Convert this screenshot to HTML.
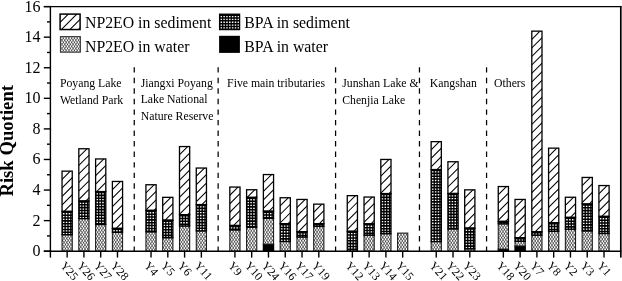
<!DOCTYPE html><html><head><meta charset="utf-8"><style>html,body{margin:0;padding:0;background:#fff;}svg{display:block;will-change:transform;}text{font-family:"Liberation Serif", serif;fill:#000;}</style></head><body>
<svg width="622" height="281" viewBox="0 0 622 281">
<defs><clipPath id="c1"><rect x="62.05" y="234.70" width="10.20" height="16.50"/></clipPath><clipPath id="c2"><rect x="62.05" y="211.40" width="10.20" height="23.30"/></clipPath><clipPath id="c3"><rect x="62.05" y="171.15" width="10.20" height="40.25"/></clipPath><clipPath id="c4"><rect x="78.82" y="218.60" width="10.20" height="32.60"/></clipPath><clipPath id="c5"><rect x="78.82" y="201.00" width="10.20" height="17.60"/></clipPath><clipPath id="c6"><rect x="78.82" y="148.75" width="10.20" height="52.25"/></clipPath><clipPath id="c7"><rect x="95.60" y="224.50" width="10.20" height="26.70"/></clipPath><clipPath id="c8"><rect x="95.60" y="191.60" width="10.20" height="32.90"/></clipPath><clipPath id="c9"><rect x="95.60" y="158.95" width="10.20" height="32.65"/></clipPath><clipPath id="c10"><rect x="112.38" y="232.30" width="10.20" height="18.90"/></clipPath><clipPath id="c11"><rect x="112.38" y="228.40" width="10.20" height="3.90"/></clipPath><clipPath id="c12"><rect x="112.38" y="181.45" width="10.20" height="46.95"/></clipPath><clipPath id="c13"><rect x="145.93" y="231.80" width="10.20" height="19.40"/></clipPath><clipPath id="c14"><rect x="145.93" y="210.40" width="10.20" height="21.40"/></clipPath><clipPath id="c15"><rect x="145.93" y="184.75" width="10.20" height="25.65"/></clipPath><clipPath id="c16"><rect x="162.71" y="237.70" width="10.20" height="13.50"/></clipPath><clipPath id="c17"><rect x="162.71" y="220.20" width="10.20" height="17.50"/></clipPath><clipPath id="c18"><rect x="162.71" y="197.35" width="10.20" height="22.85"/></clipPath><clipPath id="c19"><rect x="179.49" y="226.00" width="10.20" height="25.20"/></clipPath><clipPath id="c20"><rect x="179.49" y="214.70" width="10.20" height="11.30"/></clipPath><clipPath id="c21"><rect x="179.49" y="146.55" width="10.20" height="68.15"/></clipPath><clipPath id="c22"><rect x="196.26" y="230.90" width="10.20" height="20.30"/></clipPath><clipPath id="c23"><rect x="196.26" y="204.60" width="10.20" height="26.30"/></clipPath><clipPath id="c24"><rect x="196.26" y="168.05" width="10.20" height="36.55"/></clipPath><clipPath id="c25"><rect x="229.82" y="229.90" width="10.20" height="21.30"/></clipPath><clipPath id="c26"><rect x="229.82" y="225.50" width="10.20" height="4.40"/></clipPath><clipPath id="c27"><rect x="229.82" y="187.05" width="10.20" height="38.45"/></clipPath><clipPath id="c28"><rect x="246.59" y="227.20" width="10.20" height="24.00"/></clipPath><clipPath id="c29"><rect x="246.59" y="197.40" width="10.20" height="29.80"/></clipPath><clipPath id="c30"><rect x="246.59" y="189.75" width="10.20" height="7.65"/></clipPath><clipPath id="c31"><rect x="263.37" y="218.30" width="10.20" height="25.90"/></clipPath><clipPath id="c32"><rect x="263.37" y="211.20" width="10.20" height="7.10"/></clipPath><clipPath id="c33"><rect x="263.37" y="174.55" width="10.20" height="36.65"/></clipPath><clipPath id="c34"><rect x="280.15" y="241.50" width="10.20" height="9.70"/></clipPath><clipPath id="c35"><rect x="280.15" y="223.70" width="10.20" height="17.80"/></clipPath><clipPath id="c36"><rect x="280.15" y="197.75" width="10.20" height="25.95"/></clipPath><clipPath id="c37"><rect x="296.93" y="237.00" width="10.20" height="14.20"/></clipPath><clipPath id="c38"><rect x="296.93" y="231.70" width="10.20" height="5.30"/></clipPath><clipPath id="c39"><rect x="296.93" y="199.45" width="10.20" height="32.25"/></clipPath><clipPath id="c40"><rect x="313.70" y="226.40" width="10.20" height="24.80"/></clipPath><clipPath id="c41"><rect x="313.70" y="223.70" width="10.20" height="2.70"/></clipPath><clipPath id="c42"><rect x="313.70" y="204.15" width="10.20" height="19.55"/></clipPath><clipPath id="c43"><rect x="347.26" y="231.30" width="10.20" height="19.90"/></clipPath><clipPath id="c44"><rect x="347.26" y="195.65" width="10.20" height="35.65"/></clipPath><clipPath id="c45"><rect x="364.03" y="235.20" width="10.20" height="16.00"/></clipPath><clipPath id="c46"><rect x="364.03" y="223.90" width="10.20" height="11.30"/></clipPath><clipPath id="c47"><rect x="364.03" y="197.05" width="10.20" height="26.85"/></clipPath><clipPath id="c48"><rect x="380.81" y="233.70" width="10.20" height="17.50"/></clipPath><clipPath id="c49"><rect x="380.81" y="193.60" width="10.20" height="40.10"/></clipPath><clipPath id="c50"><rect x="380.81" y="159.45" width="10.20" height="34.15"/></clipPath><clipPath id="c51"><rect x="397.59" y="233.10" width="10.20" height="18.10"/></clipPath><clipPath id="c52"><rect x="431.14" y="241.60" width="10.20" height="9.60"/></clipPath><clipPath id="c53"><rect x="431.14" y="169.60" width="10.20" height="72.00"/></clipPath><clipPath id="c54"><rect x="431.14" y="141.65" width="10.20" height="27.95"/></clipPath><clipPath id="c55"><rect x="447.92" y="228.90" width="10.20" height="22.30"/></clipPath><clipPath id="c56"><rect x="447.92" y="193.50" width="10.20" height="35.40"/></clipPath><clipPath id="c57"><rect x="447.92" y="161.75" width="10.20" height="31.75"/></clipPath><clipPath id="c58"><rect x="464.69" y="248.80" width="10.20" height="2.40"/></clipPath><clipPath id="c59"><rect x="464.69" y="228.10" width="10.20" height="20.70"/></clipPath><clipPath id="c60"><rect x="464.69" y="189.85" width="10.20" height="38.25"/></clipPath><clipPath id="c61"><rect x="498.25" y="223.80" width="10.20" height="25.30"/></clipPath><clipPath id="c62"><rect x="498.25" y="221.40" width="10.20" height="2.40"/></clipPath><clipPath id="c63"><rect x="498.25" y="186.55" width="10.20" height="34.85"/></clipPath><clipPath id="c64"><rect x="515.03" y="241.30" width="10.20" height="4.70"/></clipPath><clipPath id="c65"><rect x="515.03" y="237.80" width="10.20" height="3.50"/></clipPath><clipPath id="c66"><rect x="515.03" y="199.45" width="10.20" height="38.35"/></clipPath><clipPath id="c67"><rect x="531.80" y="235.20" width="10.20" height="16.00"/></clipPath><clipPath id="c68"><rect x="531.80" y="231.80" width="10.20" height="3.40"/></clipPath><clipPath id="c69"><rect x="531.80" y="31.15" width="10.20" height="200.65"/></clipPath><clipPath id="c70"><rect x="548.58" y="231.30" width="10.20" height="19.90"/></clipPath><clipPath id="c71"><rect x="548.58" y="222.80" width="10.20" height="8.50"/></clipPath><clipPath id="c72"><rect x="548.58" y="148.15" width="10.20" height="74.65"/></clipPath><clipPath id="c73"><rect x="565.36" y="229.20" width="10.20" height="22.00"/></clipPath><clipPath id="c74"><rect x="565.36" y="217.40" width="10.20" height="11.80"/></clipPath><clipPath id="c75"><rect x="565.36" y="197.25" width="10.20" height="20.15"/></clipPath><clipPath id="c76"><rect x="582.13" y="230.90" width="10.20" height="20.30"/></clipPath><clipPath id="c77"><rect x="582.13" y="204.00" width="10.20" height="26.90"/></clipPath><clipPath id="c78"><rect x="582.13" y="177.45" width="10.20" height="26.55"/></clipPath><clipPath id="c79"><rect x="598.91" y="233.50" width="10.20" height="17.70"/></clipPath><clipPath id="c80"><rect x="598.91" y="216.40" width="10.20" height="17.10"/></clipPath><clipPath id="c81"><rect x="598.91" y="185.55" width="10.20" height="30.85"/></clipPath><clipPath id="c82"><rect x="60.10" y="14.10" width="20.00" height="15.45"/></clipPath><clipPath id="c83"><rect x="60.40" y="36.60" width="20.00" height="15.60"/></clipPath><clipPath id="c84"><rect x="219.60" y="14.20" width="20.00" height="15.40"/></clipPath></defs>
<g clip-path="url(#c1)"><rect x="62.05" y="234.7" width="10.2" height="16.5" fill="#fff"/><path d="M38.75 233.7L51.24 252.2M42.26 233.7L29.76 252.2M41.52 233.7L54.01 252.2M45.03 233.7L32.53 252.2M44.29 233.7L56.78 252.2M47.8 233.7L35.3 252.2M47.06 233.7L59.55 252.2M50.57 233.7L38.07 252.2M49.83 233.7L62.32 252.2M53.34 233.7L40.84 252.2M52.6 233.7L65.09 252.2M56.11 233.7L43.61 252.2M55.37 233.7L67.86 252.2M58.88 233.7L46.38 252.2M58.14 233.7L70.63 252.2M61.65 233.7L49.15 252.2M60.91 233.7L73.4 252.2M64.42 233.7L51.92 252.2M63.68 233.7L76.17 252.2M67.19 233.7L54.69 252.2M66.45 233.7L78.94 252.2M69.96 233.7L57.46 252.2M69.22 233.7L81.71 252.2M72.73 233.7L60.23 252.2M71.99 233.7L84.48 252.2M75.5 233.7L63 252.2M74.76 233.7L87.25 252.2M78.27 233.7L65.77 252.2M77.53 233.7L90.02 252.2M81.04 233.7L68.54 252.2M80.3 233.7L92.79 252.2M83.81 233.7L71.31 252.2M83.07 233.7L95.56 252.2M86.58 233.7L74.08 252.2M85.84 233.7L98.33 252.2M89.35 233.7L76.85 252.2M88.61 233.7L101.1 252.2M92.12 233.7L79.62 252.2M91.38 233.7L103.87 252.2M94.89 233.7L82.39 252.2" stroke="#000" stroke-width="0.55" fill="none"/></g>
<rect x="62.05" y="234.7" width="10.2" height="16.5" fill="none" stroke="#1a1a1a" stroke-width="1.05"/>
<rect x="62.05" y="211.4" width="10.2" height="23.3" fill="#000"/>
<path clip-path="url(#c2)" d="M62.95 213.1h1.5v1.3h-1.5zM65.8 213.1h1.5v1.3h-1.5zM68.65 213.1h1.5v1.3h-1.5zM71.5 213.1h1.5v1.3h-1.5zM62.95 215.95h1.5v1.3h-1.5zM65.8 215.95h1.5v1.3h-1.5zM68.65 215.95h1.5v1.3h-1.5zM71.5 215.95h1.5v1.3h-1.5zM62.95 218.8h1.5v1.3h-1.5zM65.8 218.8h1.5v1.3h-1.5zM68.65 218.8h1.5v1.3h-1.5zM71.5 218.8h1.5v1.3h-1.5zM62.95 221.65h1.5v1.3h-1.5zM65.8 221.65h1.5v1.3h-1.5zM68.65 221.65h1.5v1.3h-1.5zM71.5 221.65h1.5v1.3h-1.5zM62.95 224.5h1.5v1.3h-1.5zM65.8 224.5h1.5v1.3h-1.5zM68.65 224.5h1.5v1.3h-1.5zM71.5 224.5h1.5v1.3h-1.5zM62.95 227.35h1.5v1.3h-1.5zM65.8 227.35h1.5v1.3h-1.5zM68.65 227.35h1.5v1.3h-1.5zM71.5 227.35h1.5v1.3h-1.5zM62.95 230.2h1.5v1.3h-1.5zM65.8 230.2h1.5v1.3h-1.5zM68.65 230.2h1.5v1.3h-1.5zM71.5 230.2h1.5v1.3h-1.5zM62.95 233.05h1.5v1.3h-1.5zM65.8 233.05h1.5v1.3h-1.5zM68.65 233.05h1.5v1.3h-1.5zM71.5 233.05h1.5v1.3h-1.5z" fill="#fff"/>
<rect x="62.05" y="211.4" width="10.2" height="23.3" fill="none" stroke="#000" stroke-width="1.3"/>
<path clip-path="url(#c3)" d="M61.05 163.34L73.25 151.14M61.05 171.85L73.25 159.65M61.05 180.36L73.25 168.16M61.05 188.87L73.25 176.67M61.05 197.38L73.25 185.18M61.05 205.89L73.25 193.69M61.05 214.4L73.25 202.2M61.05 222.91L73.25 210.71M61.05 231.42L73.25 219.22" stroke="#000" stroke-width="1.05" fill="none"/>
<rect x="62.05" y="171.15" width="10.2" height="40.25" fill="none" stroke="#000" stroke-width="1.3"/>
<g clip-path="url(#c4)"><rect x="78.82" y="218.6" width="10.2" height="32.6" fill="#fff"/><path d="M44.44 217.6L67.82 252.2M47.96 217.6L24.58 252.2M47.21 217.6L70.59 252.2M50.73 217.6L27.35 252.2M49.98 217.6L73.36 252.2M53.5 217.6L30.12 252.2M52.75 217.6L76.13 252.2M56.27 217.6L32.89 252.2M55.52 217.6L78.9 252.2M59.04 217.6L35.66 252.2M58.29 217.6L81.67 252.2M61.81 217.6L38.43 252.2M61.06 217.6L84.44 252.2M64.58 217.6L41.2 252.2M63.83 217.6L87.21 252.2M67.35 217.6L43.97 252.2M66.6 217.6L89.98 252.2M70.12 217.6L46.74 252.2M69.37 217.6L92.75 252.2M72.89 217.6L49.51 252.2M72.14 217.6L95.52 252.2M75.66 217.6L52.28 252.2M74.91 217.6L98.29 252.2M78.43 217.6L55.05 252.2M77.68 217.6L101.06 252.2M81.2 217.6L57.82 252.2M80.45 217.6L103.83 252.2M83.97 217.6L60.59 252.2M83.22 217.6L106.6 252.2M86.74 217.6L63.36 252.2M85.99 217.6L109.37 252.2M89.51 217.6L66.13 252.2M88.76 217.6L112.14 252.2M92.28 217.6L68.9 252.2M91.53 217.6L114.91 252.2M95.05 217.6L71.67 252.2M94.3 217.6L117.68 252.2M97.82 217.6L74.44 252.2M97.07 217.6L120.45 252.2M100.59 217.6L77.21 252.2M99.84 217.6L123.22 252.2M103.36 217.6L79.98 252.2M102.61 217.6L125.99 252.2M106.13 217.6L82.75 252.2M105.38 217.6L128.76 252.2M108.9 217.6L85.52 252.2M108.15 217.6L131.53 252.2M111.67 217.6L88.29 252.2M110.92 217.6L134.3 252.2M114.44 217.6L91.06 252.2M113.69 217.6L137.07 252.2M117.21 217.6L93.83 252.2M116.46 217.6L139.84 252.2M119.98 217.6L96.6 252.2M119.23 217.6L142.61 252.2M122.75 217.6L99.37 252.2" stroke="#000" stroke-width="0.55" fill="none"/></g>
<rect x="78.82" y="218.6" width="10.2" height="32.6" fill="none" stroke="#1a1a1a" stroke-width="1.05"/>
<rect x="78.82" y="201" width="10.2" height="17.6" fill="#000"/>
<path clip-path="url(#c5)" d="M79.72 202.7h1.5v1.3h-1.5zM82.57 202.7h1.5v1.3h-1.5zM85.42 202.7h1.5v1.3h-1.5zM88.27 202.7h1.5v1.3h-1.5zM79.72 205.55h1.5v1.3h-1.5zM82.57 205.55h1.5v1.3h-1.5zM85.42 205.55h1.5v1.3h-1.5zM88.27 205.55h1.5v1.3h-1.5zM79.72 208.4h1.5v1.3h-1.5zM82.57 208.4h1.5v1.3h-1.5zM85.42 208.4h1.5v1.3h-1.5zM88.27 208.4h1.5v1.3h-1.5zM79.72 211.25h1.5v1.3h-1.5zM82.57 211.25h1.5v1.3h-1.5zM85.42 211.25h1.5v1.3h-1.5zM88.27 211.25h1.5v1.3h-1.5zM79.72 214.1h1.5v1.3h-1.5zM82.57 214.1h1.5v1.3h-1.5zM85.42 214.1h1.5v1.3h-1.5zM88.27 214.1h1.5v1.3h-1.5zM79.72 216.95h1.5v1.3h-1.5zM82.57 216.95h1.5v1.3h-1.5zM85.42 216.95h1.5v1.3h-1.5zM88.27 216.95h1.5v1.3h-1.5z" fill="#fff"/>
<rect x="78.82" y="201" width="10.2" height="17.6" fill="none" stroke="#000" stroke-width="1.3"/>
<path clip-path="url(#c6)" d="M77.82 140.94L90.02 128.74M77.82 149.45L90.02 137.25M77.82 157.96L90.02 145.76M77.82 166.47L90.02 154.27M77.82 174.98L90.02 162.78M77.82 183.49L90.02 171.29M77.82 192L90.02 179.8M77.82 200.51L90.02 188.31M77.82 209.02L90.02 196.82M77.82 217.53L90.02 205.33M77.82 226.04L90.02 213.84" stroke="#000" stroke-width="1.05" fill="none"/>
<rect x="78.82" y="148.75" width="10.2" height="52.25" fill="none" stroke="#000" stroke-width="1.3"/>
<g clip-path="url(#c7)"><rect x="95.6" y="224.5" width="10.2" height="26.7" fill="#fff"/><path d="M66.76 223.5L86.15 252.2M70.27 223.5L50.88 252.2M69.53 223.5L88.92 252.2M73.04 223.5L53.65 252.2M72.3 223.5L91.69 252.2M75.81 223.5L56.42 252.2M75.07 223.5L94.46 252.2M78.58 223.5L59.19 252.2M77.84 223.5L97.23 252.2M81.35 223.5L61.96 252.2M80.61 223.5L100 252.2M84.12 223.5L64.73 252.2M83.38 223.5L102.77 252.2M86.89 223.5L67.5 252.2M86.15 223.5L105.54 252.2M89.66 223.5L70.27 252.2M88.92 223.5L108.31 252.2M92.43 223.5L73.04 252.2M91.69 223.5L111.08 252.2M95.2 223.5L75.81 252.2M94.46 223.5L113.85 252.2M97.97 223.5L78.58 252.2M97.23 223.5L116.62 252.2M100.74 223.5L81.35 252.2M100 223.5L119.39 252.2M103.51 223.5L84.12 252.2M102.77 223.5L122.16 252.2M106.28 223.5L86.89 252.2M105.54 223.5L124.93 252.2M109.05 223.5L89.66 252.2M108.31 223.5L127.7 252.2M111.82 223.5L92.43 252.2M111.08 223.5L130.47 252.2M114.59 223.5L95.2 252.2M113.85 223.5L133.24 252.2M117.36 223.5L97.97 252.2M116.62 223.5L136.01 252.2M120.13 223.5L100.74 252.2M119.39 223.5L138.78 252.2M122.9 223.5L103.51 252.2M122.16 223.5L141.55 252.2M125.67 223.5L106.28 252.2M124.93 223.5L144.32 252.2M128.44 223.5L109.05 252.2M127.7 223.5L147.09 252.2M131.21 223.5L111.82 252.2M130.47 223.5L149.86 252.2M133.98 223.5L114.59 252.2" stroke="#000" stroke-width="0.55" fill="none"/></g>
<rect x="95.6" y="224.5" width="10.2" height="26.7" fill="none" stroke="#1a1a1a" stroke-width="1.05"/>
<rect x="95.6" y="191.6" width="10.2" height="32.9" fill="#000"/>
<path clip-path="url(#c8)" d="M96.5 193.3h1.5v1.3h-1.5zM99.35 193.3h1.5v1.3h-1.5zM102.2 193.3h1.5v1.3h-1.5zM105.05 193.3h1.5v1.3h-1.5zM96.5 196.15h1.5v1.3h-1.5zM99.35 196.15h1.5v1.3h-1.5zM102.2 196.15h1.5v1.3h-1.5zM105.05 196.15h1.5v1.3h-1.5zM96.5 199h1.5v1.3h-1.5zM99.35 199h1.5v1.3h-1.5zM102.2 199h1.5v1.3h-1.5zM105.05 199h1.5v1.3h-1.5zM96.5 201.85h1.5v1.3h-1.5zM99.35 201.85h1.5v1.3h-1.5zM102.2 201.85h1.5v1.3h-1.5zM105.05 201.85h1.5v1.3h-1.5zM96.5 204.7h1.5v1.3h-1.5zM99.35 204.7h1.5v1.3h-1.5zM102.2 204.7h1.5v1.3h-1.5zM105.05 204.7h1.5v1.3h-1.5zM96.5 207.55h1.5v1.3h-1.5zM99.35 207.55h1.5v1.3h-1.5zM102.2 207.55h1.5v1.3h-1.5zM105.05 207.55h1.5v1.3h-1.5zM96.5 210.4h1.5v1.3h-1.5zM99.35 210.4h1.5v1.3h-1.5zM102.2 210.4h1.5v1.3h-1.5zM105.05 210.4h1.5v1.3h-1.5zM96.5 213.25h1.5v1.3h-1.5zM99.35 213.25h1.5v1.3h-1.5zM102.2 213.25h1.5v1.3h-1.5zM105.05 213.25h1.5v1.3h-1.5zM96.5 216.1h1.5v1.3h-1.5zM99.35 216.1h1.5v1.3h-1.5zM102.2 216.1h1.5v1.3h-1.5zM105.05 216.1h1.5v1.3h-1.5zM96.5 218.95h1.5v1.3h-1.5zM99.35 218.95h1.5v1.3h-1.5zM102.2 218.95h1.5v1.3h-1.5zM105.05 218.95h1.5v1.3h-1.5zM96.5 221.8h1.5v1.3h-1.5zM99.35 221.8h1.5v1.3h-1.5zM102.2 221.8h1.5v1.3h-1.5zM105.05 221.8h1.5v1.3h-1.5z" fill="#fff"/>
<rect x="95.6" y="191.6" width="10.2" height="32.9" fill="none" stroke="#000" stroke-width="1.3"/>
<path clip-path="url(#c9)" d="M94.6 151.14L106.8 138.94M94.6 159.65L106.8 147.45M94.6 168.16L106.8 155.96M94.6 176.67L106.8 164.47M94.6 185.18L106.8 172.98M94.6 193.69L106.8 181.49M94.6 202.2L106.8 190M94.6 210.71L106.8 198.51M94.6 219.22L106.8 207.02" stroke="#000" stroke-width="1.05" fill="none"/>
<rect x="95.6" y="158.95" width="10.2" height="32.65" fill="none" stroke="#000" stroke-width="1.3"/>
<g clip-path="url(#c10)"><rect x="112.38" y="232.3" width="10.2" height="18.9" fill="#fff"/><path d="M89.08 231.3L103.2 252.2M92.59 231.3L78.47 252.2M91.85 231.3L105.97 252.2M95.36 231.3L81.24 252.2M94.62 231.3L108.74 252.2M98.13 231.3L84.01 252.2M97.39 231.3L111.51 252.2M100.9 231.3L86.78 252.2M100.16 231.3L114.28 252.2M103.67 231.3L89.55 252.2M102.93 231.3L117.05 252.2M106.44 231.3L92.32 252.2M105.7 231.3L119.82 252.2M109.21 231.3L95.09 252.2M108.47 231.3L122.59 252.2M111.98 231.3L97.86 252.2M111.24 231.3L125.36 252.2M114.75 231.3L100.63 252.2M114.01 231.3L128.13 252.2M117.52 231.3L103.4 252.2M116.78 231.3L130.9 252.2M120.29 231.3L106.17 252.2M119.55 231.3L133.67 252.2M123.06 231.3L108.94 252.2M122.32 231.3L136.44 252.2M125.83 231.3L111.71 252.2M125.09 231.3L139.21 252.2M128.6 231.3L114.48 252.2M127.86 231.3L141.98 252.2M131.37 231.3L117.25 252.2M130.63 231.3L144.75 252.2M134.14 231.3L120.02 252.2M133.4 231.3L147.52 252.2M136.91 231.3L122.79 252.2M136.17 231.3L150.29 252.2M139.68 231.3L125.56 252.2M138.94 231.3L153.06 252.2M142.45 231.3L128.33 252.2M141.71 231.3L155.83 252.2M145.22 231.3L131.1 252.2M144.48 231.3L158.6 252.2M147.99 231.3L133.87 252.2" stroke="#000" stroke-width="0.55" fill="none"/></g>
<rect x="112.38" y="232.3" width="10.2" height="18.9" fill="none" stroke="#1a1a1a" stroke-width="1.05"/>
<rect x="112.38" y="228.4" width="10.2" height="3.9" fill="#000"/>
<path clip-path="url(#c11)" d="M113.28 230.1h1.5v1.3h-1.5zM116.13 230.1h1.5v1.3h-1.5zM118.98 230.1h1.5v1.3h-1.5zM121.83 230.1h1.5v1.3h-1.5z" fill="#fff"/>
<rect x="112.38" y="228.4" width="10.2" height="3.9" fill="none" stroke="#000" stroke-width="1.3"/>
<path clip-path="url(#c12)" d="M111.38 173.64L123.58 161.44M111.38 182.15L123.58 169.95M111.38 190.66L123.58 178.46M111.38 199.17L123.58 186.97M111.38 207.68L123.58 195.48M111.38 216.19L123.58 203.99M111.38 224.7L123.58 212.5M111.38 233.21L123.58 221.01M111.38 241.72L123.58 229.52M111.38 250.23L123.58 238.03" stroke="#000" stroke-width="1.05" fill="none"/>
<rect x="112.38" y="181.45" width="10.2" height="46.95" fill="none" stroke="#000" stroke-width="1.3"/>
<g clip-path="url(#c13)"><rect x="145.93" y="231.8" width="10.2" height="19.4" fill="#fff"/><path d="M122.63 230.8L137.09 252.2M126.14 230.8L111.69 252.2M125.4 230.8L139.86 252.2M128.91 230.8L114.46 252.2M128.17 230.8L142.63 252.2M131.68 230.8L117.23 252.2M130.94 230.8L145.4 252.2M134.45 230.8L120 252.2M133.71 230.8L148.17 252.2M137.22 230.8L122.77 252.2M136.48 230.8L150.94 252.2M139.99 230.8L125.54 252.2M139.25 230.8L153.71 252.2M142.76 230.8L128.31 252.2M142.02 230.8L156.48 252.2M145.53 230.8L131.08 252.2M144.79 230.8L159.25 252.2M148.3 230.8L133.85 252.2M147.56 230.8L162.02 252.2M151.07 230.8L136.62 252.2M150.33 230.8L164.79 252.2M153.84 230.8L139.39 252.2M153.1 230.8L167.56 252.2M156.61 230.8L142.16 252.2M155.87 230.8L170.33 252.2M159.38 230.8L144.93 252.2M158.64 230.8L173.1 252.2M162.15 230.8L147.7 252.2M161.41 230.8L175.87 252.2M164.92 230.8L150.47 252.2M164.18 230.8L178.64 252.2M167.69 230.8L153.24 252.2M166.95 230.8L181.41 252.2M170.46 230.8L156.01 252.2M169.72 230.8L184.18 252.2M173.23 230.8L158.78 252.2M172.49 230.8L186.95 252.2M176 230.8L161.55 252.2M175.26 230.8L189.72 252.2M178.77 230.8L164.32 252.2M178.03 230.8L192.49 252.2M181.54 230.8L167.09 252.2" stroke="#000" stroke-width="0.55" fill="none"/></g>
<rect x="145.93" y="231.8" width="10.2" height="19.4" fill="none" stroke="#1a1a1a" stroke-width="1.05"/>
<rect x="145.93" y="210.4" width="10.2" height="21.4" fill="#000"/>
<path clip-path="url(#c14)" d="M146.83 212.1h1.5v1.3h-1.5zM149.68 212.1h1.5v1.3h-1.5zM152.53 212.1h1.5v1.3h-1.5zM155.38 212.1h1.5v1.3h-1.5zM146.83 214.95h1.5v1.3h-1.5zM149.68 214.95h1.5v1.3h-1.5zM152.53 214.95h1.5v1.3h-1.5zM155.38 214.95h1.5v1.3h-1.5zM146.83 217.8h1.5v1.3h-1.5zM149.68 217.8h1.5v1.3h-1.5zM152.53 217.8h1.5v1.3h-1.5zM155.38 217.8h1.5v1.3h-1.5zM146.83 220.65h1.5v1.3h-1.5zM149.68 220.65h1.5v1.3h-1.5zM152.53 220.65h1.5v1.3h-1.5zM155.38 220.65h1.5v1.3h-1.5zM146.83 223.5h1.5v1.3h-1.5zM149.68 223.5h1.5v1.3h-1.5zM152.53 223.5h1.5v1.3h-1.5zM155.38 223.5h1.5v1.3h-1.5zM146.83 226.35h1.5v1.3h-1.5zM149.68 226.35h1.5v1.3h-1.5zM152.53 226.35h1.5v1.3h-1.5zM155.38 226.35h1.5v1.3h-1.5zM146.83 229.2h1.5v1.3h-1.5zM149.68 229.2h1.5v1.3h-1.5zM152.53 229.2h1.5v1.3h-1.5zM155.38 229.2h1.5v1.3h-1.5z" fill="#fff"/>
<rect x="145.93" y="210.4" width="10.2" height="21.4" fill="none" stroke="#000" stroke-width="1.3"/>
<path clip-path="url(#c15)" d="M144.93 176.94L157.13 164.74M144.93 185.45L157.13 173.25M144.93 193.96L157.13 181.76M144.93 202.47L157.13 190.27M144.93 210.98L157.13 198.78M144.93 219.49L157.13 207.29M144.93 228L157.13 215.8M144.93 236.51L157.13 224.31" stroke="#000" stroke-width="1.05" fill="none"/>
<rect x="145.93" y="184.75" width="10.2" height="25.65" fill="none" stroke="#000" stroke-width="1.3"/>
<g clip-path="url(#c16)"><rect x="162.71" y="237.7" width="10.2" height="13.5" fill="#fff"/><path d="M142.18 236.7L152.65 252.2M145.69 236.7L135.22 252.2M144.95 236.7L155.42 252.2M148.46 236.7L137.99 252.2M147.72 236.7L158.19 252.2M151.23 236.7L140.76 252.2M150.49 236.7L160.96 252.2M154 236.7L143.53 252.2M153.26 236.7L163.73 252.2M156.77 236.7L146.3 252.2M156.03 236.7L166.5 252.2M159.54 236.7L149.07 252.2M158.8 236.7L169.27 252.2M162.31 236.7L151.84 252.2M161.57 236.7L172.04 252.2M165.08 236.7L154.61 252.2M164.34 236.7L174.81 252.2M167.85 236.7L157.38 252.2M167.11 236.7L177.58 252.2M170.62 236.7L160.15 252.2M169.88 236.7L180.35 252.2M173.39 236.7L162.92 252.2M172.65 236.7L183.12 252.2M176.16 236.7L165.69 252.2M175.42 236.7L185.89 252.2M178.93 236.7L168.46 252.2M178.19 236.7L188.66 252.2M181.7 236.7L171.23 252.2M180.96 236.7L191.43 252.2M184.47 236.7L174 252.2M183.73 236.7L194.2 252.2M187.24 236.7L176.77 252.2M186.5 236.7L196.97 252.2M190.01 236.7L179.54 252.2M189.27 236.7L199.74 252.2M192.78 236.7L182.31 252.2" stroke="#000" stroke-width="0.55" fill="none"/></g>
<rect x="162.71" y="237.7" width="10.2" height="13.5" fill="none" stroke="#1a1a1a" stroke-width="1.05"/>
<rect x="162.71" y="220.2" width="10.2" height="17.5" fill="#000"/>
<path clip-path="url(#c17)" d="M163.61 221.9h1.5v1.3h-1.5zM166.46 221.9h1.5v1.3h-1.5zM169.31 221.9h1.5v1.3h-1.5zM172.16 221.9h1.5v1.3h-1.5zM163.61 224.75h1.5v1.3h-1.5zM166.46 224.75h1.5v1.3h-1.5zM169.31 224.75h1.5v1.3h-1.5zM172.16 224.75h1.5v1.3h-1.5zM163.61 227.6h1.5v1.3h-1.5zM166.46 227.6h1.5v1.3h-1.5zM169.31 227.6h1.5v1.3h-1.5zM172.16 227.6h1.5v1.3h-1.5zM163.61 230.45h1.5v1.3h-1.5zM166.46 230.45h1.5v1.3h-1.5zM169.31 230.45h1.5v1.3h-1.5zM172.16 230.45h1.5v1.3h-1.5zM163.61 233.3h1.5v1.3h-1.5zM166.46 233.3h1.5v1.3h-1.5zM169.31 233.3h1.5v1.3h-1.5zM172.16 233.3h1.5v1.3h-1.5zM163.61 236.15h1.5v1.3h-1.5zM166.46 236.15h1.5v1.3h-1.5zM169.31 236.15h1.5v1.3h-1.5zM172.16 236.15h1.5v1.3h-1.5z" fill="#fff"/>
<rect x="162.71" y="220.2" width="10.2" height="17.5" fill="none" stroke="#000" stroke-width="1.3"/>
<path clip-path="url(#c18)" d="M161.71 189.54L173.91 177.34M161.71 198.05L173.91 185.85M161.71 206.56L173.91 194.36M161.71 215.07L173.91 202.87M161.71 223.58L173.91 211.38M161.71 232.09L173.91 219.89M161.71 240.6L173.91 228.4" stroke="#000" stroke-width="1.05" fill="none"/>
<rect x="162.71" y="197.35" width="10.2" height="22.85" fill="none" stroke="#000" stroke-width="1.3"/>
<g clip-path="url(#c19)"><rect x="179.49" y="226" width="10.2" height="25.2" fill="#fff"/><path d="M150.64 225L169.02 252.2M154.16 225L135.78 252.2M153.41 225L171.79 252.2M156.93 225L138.55 252.2M156.18 225L174.56 252.2M159.7 225L141.32 252.2M158.95 225L177.33 252.2M162.47 225L144.09 252.2M161.72 225L180.1 252.2M165.24 225L146.86 252.2M164.49 225L182.87 252.2M168.01 225L149.63 252.2M167.26 225L185.64 252.2M170.78 225L152.4 252.2M170.03 225L188.41 252.2M173.55 225L155.17 252.2M172.8 225L191.18 252.2M176.32 225L157.94 252.2M175.57 225L193.95 252.2M179.09 225L160.71 252.2M178.34 225L196.72 252.2M181.86 225L163.48 252.2M181.11 225L199.49 252.2M184.63 225L166.25 252.2M183.88 225L202.26 252.2M187.4 225L169.02 252.2M186.65 225L205.03 252.2M190.17 225L171.79 252.2M189.42 225L207.8 252.2M192.94 225L174.56 252.2M192.19 225L210.57 252.2M195.71 225L177.33 252.2M194.96 225L213.34 252.2M198.48 225L180.1 252.2M197.73 225L216.11 252.2M201.25 225L182.87 252.2M200.5 225L218.88 252.2M204.02 225L185.64 252.2M203.27 225L221.65 252.2M206.79 225L188.41 252.2M206.04 225L224.42 252.2M209.56 225L191.18 252.2M208.81 225L227.19 252.2M212.33 225L193.95 252.2M211.58 225L229.96 252.2M215.1 225L196.72 252.2M214.35 225L232.73 252.2M217.87 225L199.49 252.2" stroke="#000" stroke-width="0.55" fill="none"/></g>
<rect x="179.49" y="226" width="10.2" height="25.2" fill="none" stroke="#1a1a1a" stroke-width="1.05"/>
<rect x="179.49" y="214.7" width="10.2" height="11.3" fill="#000"/>
<path clip-path="url(#c20)" d="M180.39 216.4h1.5v1.3h-1.5zM183.24 216.4h1.5v1.3h-1.5zM186.09 216.4h1.5v1.3h-1.5zM188.94 216.4h1.5v1.3h-1.5zM180.39 219.25h1.5v1.3h-1.5zM183.24 219.25h1.5v1.3h-1.5zM186.09 219.25h1.5v1.3h-1.5zM188.94 219.25h1.5v1.3h-1.5zM180.39 222.1h1.5v1.3h-1.5zM183.24 222.1h1.5v1.3h-1.5zM186.09 222.1h1.5v1.3h-1.5zM188.94 222.1h1.5v1.3h-1.5zM180.39 224.95h1.5v1.3h-1.5zM183.24 224.95h1.5v1.3h-1.5zM186.09 224.95h1.5v1.3h-1.5zM188.94 224.95h1.5v1.3h-1.5z" fill="#fff"/>
<rect x="179.49" y="214.7" width="10.2" height="11.3" fill="none" stroke="#000" stroke-width="1.3"/>
<path clip-path="url(#c21)" d="M178.49 138.74L190.69 126.54M178.49 147.25L190.69 135.05M178.49 155.76L190.69 143.56M178.49 164.27L190.69 152.07M178.49 172.78L190.69 160.58M178.49 181.29L190.69 169.09M178.49 189.8L190.69 177.6M178.49 198.31L190.69 186.11M178.49 206.82L190.69 194.62M178.49 215.33L190.69 203.13M178.49 223.84L190.69 211.64M178.49 232.35L190.69 220.15M178.49 240.86L190.69 228.66" stroke="#000" stroke-width="1.05" fill="none"/>
<rect x="179.49" y="146.55" width="10.2" height="68.15" fill="none" stroke="#000" stroke-width="1.3"/>
<g clip-path="url(#c22)"><rect x="196.26" y="230.9" width="10.2" height="20.3" fill="#fff"/><path d="M170.19 229.9L185.26 252.2M173.7 229.9L158.64 252.2M172.96 229.9L188.03 252.2M176.47 229.9L161.41 252.2M175.73 229.9L190.8 252.2M179.24 229.9L164.18 252.2M178.5 229.9L193.57 252.2M182.01 229.9L166.95 252.2M181.27 229.9L196.34 252.2M184.78 229.9L169.72 252.2M184.04 229.9L199.11 252.2M187.55 229.9L172.49 252.2M186.81 229.9L201.88 252.2M190.32 229.9L175.26 252.2M189.58 229.9L204.65 252.2M193.09 229.9L178.03 252.2M192.35 229.9L207.42 252.2M195.86 229.9L180.8 252.2M195.12 229.9L210.19 252.2M198.63 229.9L183.57 252.2M197.89 229.9L212.96 252.2M201.4 229.9L186.34 252.2M200.66 229.9L215.73 252.2M204.17 229.9L189.11 252.2M203.43 229.9L218.5 252.2M206.94 229.9L191.88 252.2M206.2 229.9L221.27 252.2M209.71 229.9L194.65 252.2M208.97 229.9L224.04 252.2M212.48 229.9L197.42 252.2M211.74 229.9L226.81 252.2M215.25 229.9L200.19 252.2M214.51 229.9L229.58 252.2M218.02 229.9L202.96 252.2M217.28 229.9L232.35 252.2M220.79 229.9L205.73 252.2M220.05 229.9L235.12 252.2M223.56 229.9L208.5 252.2M222.82 229.9L237.89 252.2M226.33 229.9L211.27 252.2M225.59 229.9L240.66 252.2M229.1 229.9L214.04 252.2M228.36 229.9L243.43 252.2M231.87 229.9L216.81 252.2" stroke="#000" stroke-width="0.55" fill="none"/></g>
<rect x="196.26" y="230.9" width="10.2" height="20.3" fill="none" stroke="#1a1a1a" stroke-width="1.05"/>
<rect x="196.26" y="204.6" width="10.2" height="26.3" fill="#000"/>
<path clip-path="url(#c23)" d="M197.16 206.3h1.5v1.3h-1.5zM200.01 206.3h1.5v1.3h-1.5zM202.86 206.3h1.5v1.3h-1.5zM205.71 206.3h1.5v1.3h-1.5zM197.16 209.15h1.5v1.3h-1.5zM200.01 209.15h1.5v1.3h-1.5zM202.86 209.15h1.5v1.3h-1.5zM205.71 209.15h1.5v1.3h-1.5zM197.16 212h1.5v1.3h-1.5zM200.01 212h1.5v1.3h-1.5zM202.86 212h1.5v1.3h-1.5zM205.71 212h1.5v1.3h-1.5zM197.16 214.85h1.5v1.3h-1.5zM200.01 214.85h1.5v1.3h-1.5zM202.86 214.85h1.5v1.3h-1.5zM205.71 214.85h1.5v1.3h-1.5zM197.16 217.7h1.5v1.3h-1.5zM200.01 217.7h1.5v1.3h-1.5zM202.86 217.7h1.5v1.3h-1.5zM205.71 217.7h1.5v1.3h-1.5zM197.16 220.55h1.5v1.3h-1.5zM200.01 220.55h1.5v1.3h-1.5zM202.86 220.55h1.5v1.3h-1.5zM205.71 220.55h1.5v1.3h-1.5zM197.16 223.4h1.5v1.3h-1.5zM200.01 223.4h1.5v1.3h-1.5zM202.86 223.4h1.5v1.3h-1.5zM205.71 223.4h1.5v1.3h-1.5zM197.16 226.25h1.5v1.3h-1.5zM200.01 226.25h1.5v1.3h-1.5zM202.86 226.25h1.5v1.3h-1.5zM205.71 226.25h1.5v1.3h-1.5zM197.16 229.1h1.5v1.3h-1.5zM200.01 229.1h1.5v1.3h-1.5zM202.86 229.1h1.5v1.3h-1.5zM205.71 229.1h1.5v1.3h-1.5z" fill="#fff"/>
<rect x="196.26" y="204.6" width="10.2" height="26.3" fill="none" stroke="#000" stroke-width="1.3"/>
<path clip-path="url(#c24)" d="M195.26 160.24L207.46 148.04M195.26 168.75L207.46 156.55M195.26 177.26L207.46 165.06M195.26 185.77L207.46 173.57M195.26 194.28L207.46 182.08M195.26 202.79L207.46 190.59M195.26 211.3L207.46 199.1M195.26 219.81L207.46 207.61M195.26 228.32L207.46 216.12" stroke="#000" stroke-width="1.05" fill="none"/>
<rect x="196.26" y="168.05" width="10.2" height="36.55" fill="none" stroke="#000" stroke-width="1.3"/>
<g clip-path="url(#c25)"><rect x="229.82" y="229.9" width="10.2" height="21.3" fill="#fff"/><path d="M203.75 228.9L219.49 252.2M207.26 228.9L191.52 252.2M206.52 228.9L222.26 252.2M210.03 228.9L194.29 252.2M209.29 228.9L225.03 252.2M212.8 228.9L197.06 252.2M212.06 228.9L227.8 252.2M215.57 228.9L199.83 252.2M214.83 228.9L230.57 252.2M218.34 228.9L202.6 252.2M217.6 228.9L233.34 252.2M221.11 228.9L205.37 252.2M220.37 228.9L236.11 252.2M223.88 228.9L208.14 252.2M223.14 228.9L238.88 252.2M226.65 228.9L210.91 252.2M225.91 228.9L241.65 252.2M229.42 228.9L213.68 252.2M228.68 228.9L244.42 252.2M232.19 228.9L216.45 252.2M231.45 228.9L247.19 252.2M234.96 228.9L219.22 252.2M234.22 228.9L249.96 252.2M237.73 228.9L221.99 252.2M236.99 228.9L252.73 252.2M240.5 228.9L224.76 252.2M239.76 228.9L255.5 252.2M243.27 228.9L227.53 252.2M242.53 228.9L258.27 252.2M246.04 228.9L230.3 252.2M245.3 228.9L261.04 252.2M248.81 228.9L233.07 252.2M248.07 228.9L263.81 252.2M251.58 228.9L235.84 252.2M250.84 228.9L266.58 252.2M254.35 228.9L238.61 252.2M253.61 228.9L269.35 252.2M257.12 228.9L241.38 252.2M256.38 228.9L272.12 252.2M259.89 228.9L244.15 252.2M259.15 228.9L274.89 252.2M262.66 228.9L246.92 252.2M261.92 228.9L277.66 252.2M265.43 228.9L249.69 252.2" stroke="#000" stroke-width="0.55" fill="none"/></g>
<rect x="229.82" y="229.9" width="10.2" height="21.3" fill="none" stroke="#1a1a1a" stroke-width="1.05"/>
<rect x="229.82" y="225.5" width="10.2" height="4.4" fill="#000"/>
<path clip-path="url(#c26)" d="M230.72 227.2h1.5v1.3h-1.5zM233.57 227.2h1.5v1.3h-1.5zM236.42 227.2h1.5v1.3h-1.5zM239.27 227.2h1.5v1.3h-1.5z" fill="#fff"/>
<rect x="229.82" y="225.5" width="10.2" height="4.4" fill="none" stroke="#000" stroke-width="1.3"/>
<path clip-path="url(#c27)" d="M228.82 179.24L241.02 167.04M228.82 187.75L241.02 175.55M228.82 196.26L241.02 184.06M228.82 204.77L241.02 192.57M228.82 213.28L241.02 201.08M228.82 221.79L241.02 209.59M228.82 230.3L241.02 218.1M228.82 238.81L241.02 226.61M228.82 247.32L241.02 235.12" stroke="#000" stroke-width="1.05" fill="none"/>
<rect x="229.82" y="187.05" width="10.2" height="38.45" fill="none" stroke="#000" stroke-width="1.3"/>
<g clip-path="url(#c28)"><rect x="246.59" y="227.2" width="10.2" height="24" fill="#fff"/><path d="M217.75 226.2L235.32 252.2M221.27 226.2L203.7 252.2M220.52 226.2L238.09 252.2M224.04 226.2L206.47 252.2M223.29 226.2L240.86 252.2M226.81 226.2L209.24 252.2M226.06 226.2L243.63 252.2M229.58 226.2L212.01 252.2M228.83 226.2L246.4 252.2M232.35 226.2L214.78 252.2M231.6 226.2L249.17 252.2M235.12 226.2L217.55 252.2M234.37 226.2L251.94 252.2M237.89 226.2L220.32 252.2M237.14 226.2L254.71 252.2M240.66 226.2L223.09 252.2M239.91 226.2L257.48 252.2M243.43 226.2L225.86 252.2M242.68 226.2L260.25 252.2M246.2 226.2L228.63 252.2M245.45 226.2L263.02 252.2M248.97 226.2L231.4 252.2M248.22 226.2L265.79 252.2M251.74 226.2L234.17 252.2M250.99 226.2L268.56 252.2M254.51 226.2L236.94 252.2M253.76 226.2L271.33 252.2M257.28 226.2L239.71 252.2M256.53 226.2L274.1 252.2M260.05 226.2L242.48 252.2M259.3 226.2L276.87 252.2M262.82 226.2L245.25 252.2M262.07 226.2L279.64 252.2M265.59 226.2L248.02 252.2M264.84 226.2L282.41 252.2M268.36 226.2L250.79 252.2M267.61 226.2L285.18 252.2M271.13 226.2L253.56 252.2M270.38 226.2L287.95 252.2M273.9 226.2L256.33 252.2M273.15 226.2L290.72 252.2M276.67 226.2L259.1 252.2M275.92 226.2L293.49 252.2M279.44 226.2L261.87 252.2M278.69 226.2L296.26 252.2M282.21 226.2L264.64 252.2M281.46 226.2L299.03 252.2M284.98 226.2L267.41 252.2" stroke="#000" stroke-width="0.55" fill="none"/></g>
<rect x="246.59" y="227.2" width="10.2" height="24" fill="none" stroke="#1a1a1a" stroke-width="1.05"/>
<rect x="246.59" y="197.4" width="10.2" height="29.8" fill="#000"/>
<path clip-path="url(#c29)" d="M247.49 199.1h1.5v1.3h-1.5zM250.34 199.1h1.5v1.3h-1.5zM253.19 199.1h1.5v1.3h-1.5zM256.04 199.1h1.5v1.3h-1.5zM247.49 201.95h1.5v1.3h-1.5zM250.34 201.95h1.5v1.3h-1.5zM253.19 201.95h1.5v1.3h-1.5zM256.04 201.95h1.5v1.3h-1.5zM247.49 204.8h1.5v1.3h-1.5zM250.34 204.8h1.5v1.3h-1.5zM253.19 204.8h1.5v1.3h-1.5zM256.04 204.8h1.5v1.3h-1.5zM247.49 207.65h1.5v1.3h-1.5zM250.34 207.65h1.5v1.3h-1.5zM253.19 207.65h1.5v1.3h-1.5zM256.04 207.65h1.5v1.3h-1.5zM247.49 210.5h1.5v1.3h-1.5zM250.34 210.5h1.5v1.3h-1.5zM253.19 210.5h1.5v1.3h-1.5zM256.04 210.5h1.5v1.3h-1.5zM247.49 213.35h1.5v1.3h-1.5zM250.34 213.35h1.5v1.3h-1.5zM253.19 213.35h1.5v1.3h-1.5zM256.04 213.35h1.5v1.3h-1.5zM247.49 216.2h1.5v1.3h-1.5zM250.34 216.2h1.5v1.3h-1.5zM253.19 216.2h1.5v1.3h-1.5zM256.04 216.2h1.5v1.3h-1.5zM247.49 219.05h1.5v1.3h-1.5zM250.34 219.05h1.5v1.3h-1.5zM253.19 219.05h1.5v1.3h-1.5zM256.04 219.05h1.5v1.3h-1.5zM247.49 221.9h1.5v1.3h-1.5zM250.34 221.9h1.5v1.3h-1.5zM253.19 221.9h1.5v1.3h-1.5zM256.04 221.9h1.5v1.3h-1.5zM247.49 224.75h1.5v1.3h-1.5zM250.34 224.75h1.5v1.3h-1.5zM253.19 224.75h1.5v1.3h-1.5zM256.04 224.75h1.5v1.3h-1.5z" fill="#fff"/>
<rect x="246.59" y="197.4" width="10.2" height="29.8" fill="none" stroke="#000" stroke-width="1.3"/>
<path clip-path="url(#c30)" d="M245.59 181.94L257.79 169.74M245.59 190.45L257.79 178.25M245.59 198.96L257.79 186.76M245.59 207.47L257.79 195.27M245.59 215.98L257.79 203.78M245.59 224.49L257.79 212.29" stroke="#000" stroke-width="1.05" fill="none"/>
<rect x="246.59" y="189.75" width="10.2" height="7.65" fill="none" stroke="#000" stroke-width="1.3"/>
<rect x="263.37" y="244.2" width="10.2" height="7" fill="#000" stroke="#000" stroke-width="1.3"/>
<g clip-path="url(#c31)"><rect x="263.37" y="218.3" width="10.2" height="25.9" fill="#fff"/><path d="M234.53 217.3L253.38 245.2M238.04 217.3L219.19 245.2M237.3 217.3L256.15 245.2M240.81 217.3L221.96 245.2M240.07 217.3L258.92 245.2M243.58 217.3L224.73 245.2M242.84 217.3L261.69 245.2M246.35 217.3L227.5 245.2M245.61 217.3L264.46 245.2M249.12 217.3L230.27 245.2M248.38 217.3L267.23 245.2M251.89 217.3L233.04 245.2M251.15 217.3L270 245.2M254.66 217.3L235.81 245.2M253.92 217.3L272.77 245.2M257.43 217.3L238.58 245.2M256.69 217.3L275.54 245.2M260.2 217.3L241.35 245.2M259.46 217.3L278.31 245.2M262.97 217.3L244.12 245.2M262.23 217.3L281.08 245.2M265.74 217.3L246.89 245.2M265 217.3L283.85 245.2M268.51 217.3L249.66 245.2M267.77 217.3L286.62 245.2M271.28 217.3L252.43 245.2M270.54 217.3L289.39 245.2M274.05 217.3L255.2 245.2M273.31 217.3L292.16 245.2M276.82 217.3L257.97 245.2M276.08 217.3L294.93 245.2M279.59 217.3L260.74 245.2M278.85 217.3L297.7 245.2M282.36 217.3L263.51 245.2M281.62 217.3L300.47 245.2M285.13 217.3L266.28 245.2M284.39 217.3L303.24 245.2M287.9 217.3L269.05 245.2M287.16 217.3L306.01 245.2M290.67 217.3L271.82 245.2M289.93 217.3L308.78 245.2M293.44 217.3L274.59 245.2M292.7 217.3L311.55 245.2M296.21 217.3L277.36 245.2M295.47 217.3L314.32 245.2M298.98 217.3L280.13 245.2M298.24 217.3L317.09 245.2M301.75 217.3L282.9 245.2" stroke="#000" stroke-width="0.55" fill="none"/></g>
<rect x="263.37" y="218.3" width="10.2" height="25.9" fill="none" stroke="#1a1a1a" stroke-width="1.05"/>
<rect x="263.37" y="211.2" width="10.2" height="7.1" fill="#000"/>
<path clip-path="url(#c32)" d="M264.27 212.9h1.5v1.3h-1.5zM267.12 212.9h1.5v1.3h-1.5zM269.97 212.9h1.5v1.3h-1.5zM272.82 212.9h1.5v1.3h-1.5zM264.27 215.75h1.5v1.3h-1.5zM267.12 215.75h1.5v1.3h-1.5zM269.97 215.75h1.5v1.3h-1.5zM272.82 215.75h1.5v1.3h-1.5z" fill="#fff"/>
<rect x="263.37" y="211.2" width="10.2" height="7.1" fill="none" stroke="#000" stroke-width="1.3"/>
<path clip-path="url(#c33)" d="M262.37 166.74L274.57 154.54M262.37 175.25L274.57 163.05M262.37 183.76L274.57 171.56M262.37 192.27L274.57 180.07M262.37 200.78L274.57 188.58M262.37 209.29L274.57 197.09M262.37 217.8L274.57 205.6M262.37 226.31L274.57 214.11M262.37 234.82L274.57 222.62" stroke="#000" stroke-width="1.05" fill="none"/>
<rect x="263.37" y="174.55" width="10.2" height="36.65" fill="none" stroke="#000" stroke-width="1.3"/>
<g clip-path="url(#c34)"><rect x="280.15" y="241.5" width="10.2" height="9.7" fill="#fff"/><path d="M262.39 240.5L270.29 252.2M265.9 240.5L257.99 252.2M265.16 240.5L273.06 252.2M268.67 240.5L260.76 252.2M267.93 240.5L275.83 252.2M271.44 240.5L263.53 252.2M270.7 240.5L278.6 252.2M274.21 240.5L266.3 252.2M273.47 240.5L281.37 252.2M276.98 240.5L269.07 252.2M276.24 240.5L284.14 252.2M279.75 240.5L271.84 252.2M279.01 240.5L286.91 252.2M282.52 240.5L274.61 252.2M281.78 240.5L289.68 252.2M285.29 240.5L277.38 252.2M284.55 240.5L292.45 252.2M288.06 240.5L280.15 252.2M287.32 240.5L295.22 252.2M290.83 240.5L282.92 252.2M290.09 240.5L297.99 252.2M293.6 240.5L285.69 252.2M292.86 240.5L300.76 252.2M296.37 240.5L288.46 252.2M295.63 240.5L303.53 252.2M299.14 240.5L291.23 252.2M298.4 240.5L306.3 252.2M301.91 240.5L294 252.2M301.17 240.5L309.07 252.2M304.68 240.5L296.77 252.2M303.94 240.5L311.84 252.2M307.45 240.5L299.54 252.2" stroke="#000" stroke-width="0.55" fill="none"/></g>
<rect x="280.15" y="241.5" width="10.2" height="9.7" fill="none" stroke="#1a1a1a" stroke-width="1.05"/>
<rect x="280.15" y="223.7" width="10.2" height="17.8" fill="#000"/>
<path clip-path="url(#c35)" d="M281.05 225.4h1.5v1.3h-1.5zM283.9 225.4h1.5v1.3h-1.5zM286.75 225.4h1.5v1.3h-1.5zM289.6 225.4h1.5v1.3h-1.5zM281.05 228.25h1.5v1.3h-1.5zM283.9 228.25h1.5v1.3h-1.5zM286.75 228.25h1.5v1.3h-1.5zM289.6 228.25h1.5v1.3h-1.5zM281.05 231.1h1.5v1.3h-1.5zM283.9 231.1h1.5v1.3h-1.5zM286.75 231.1h1.5v1.3h-1.5zM289.6 231.1h1.5v1.3h-1.5zM281.05 233.95h1.5v1.3h-1.5zM283.9 233.95h1.5v1.3h-1.5zM286.75 233.95h1.5v1.3h-1.5zM289.6 233.95h1.5v1.3h-1.5zM281.05 236.8h1.5v1.3h-1.5zM283.9 236.8h1.5v1.3h-1.5zM286.75 236.8h1.5v1.3h-1.5zM289.6 236.8h1.5v1.3h-1.5zM281.05 239.65h1.5v1.3h-1.5zM283.9 239.65h1.5v1.3h-1.5zM286.75 239.65h1.5v1.3h-1.5zM289.6 239.65h1.5v1.3h-1.5z" fill="#fff"/>
<rect x="280.15" y="223.7" width="10.2" height="17.8" fill="none" stroke="#000" stroke-width="1.3"/>
<path clip-path="url(#c36)" d="M279.15 189.94L291.35 177.74M279.15 198.45L291.35 186.25M279.15 206.96L291.35 194.76M279.15 215.47L291.35 203.27M279.15 223.98L291.35 211.78M279.15 232.49L291.35 220.29M279.15 241L291.35 228.8M279.15 249.51L291.35 237.31" stroke="#000" stroke-width="1.05" fill="none"/>
<rect x="280.15" y="197.75" width="10.2" height="25.95" fill="none" stroke="#000" stroke-width="1.3"/>
<g clip-path="url(#c37)"><rect x="296.93" y="237" width="10.2" height="14.2" fill="#fff"/><path d="M276.39 236L287.34 252.2M279.91 236L268.96 252.2M279.16 236L290.11 252.2M282.68 236L271.73 252.2M281.93 236L292.88 252.2M285.45 236L274.5 252.2M284.7 236L295.65 252.2M288.22 236L277.27 252.2M287.47 236L298.42 252.2M290.99 236L280.04 252.2M290.24 236L301.19 252.2M293.76 236L282.81 252.2M293.01 236L303.96 252.2M296.53 236L285.58 252.2M295.78 236L306.73 252.2M299.3 236L288.35 252.2M298.55 236L309.5 252.2M302.07 236L291.12 252.2M301.32 236L312.27 252.2M304.84 236L293.89 252.2M304.09 236L315.04 252.2M307.61 236L296.66 252.2M306.86 236L317.81 252.2M310.38 236L299.43 252.2M309.63 236L320.58 252.2M313.15 236L302.2 252.2M312.4 236L323.35 252.2M315.92 236L304.97 252.2M315.17 236L326.12 252.2M318.69 236L307.74 252.2M317.94 236L328.89 252.2M321.46 236L310.51 252.2M320.71 236L331.66 252.2M324.23 236L313.28 252.2M323.48 236L334.43 252.2M327 236L316.05 252.2" stroke="#000" stroke-width="0.55" fill="none"/></g>
<rect x="296.93" y="237" width="10.2" height="14.2" fill="none" stroke="#1a1a1a" stroke-width="1.05"/>
<rect x="296.93" y="231.7" width="10.2" height="5.3" fill="#000"/>
<path clip-path="url(#c38)" d="M297.83 233.4h1.5v1.3h-1.5zM300.68 233.4h1.5v1.3h-1.5zM303.53 233.4h1.5v1.3h-1.5zM306.38 233.4h1.5v1.3h-1.5zM297.83 236.25h1.5v1.3h-1.5zM300.68 236.25h1.5v1.3h-1.5zM303.53 236.25h1.5v1.3h-1.5zM306.38 236.25h1.5v1.3h-1.5z" fill="#fff"/>
<rect x="296.93" y="231.7" width="10.2" height="5.3" fill="none" stroke="#000" stroke-width="1.3"/>
<path clip-path="url(#c39)" d="M295.93 191.64L308.12 179.44M295.93 200.15L308.12 187.95M295.93 208.66L308.12 196.46M295.93 217.17L308.12 204.97M295.93 225.68L308.12 213.48M295.93 234.19L308.12 221.99M295.93 242.7L308.12 230.5M295.93 251.21L308.12 239.01M295.93 259.72L308.12 247.52" stroke="#000" stroke-width="1.05" fill="none"/>
<rect x="296.93" y="199.45" width="10.2" height="32.25" fill="none" stroke="#000" stroke-width="1.3"/>
<g clip-path="url(#c40)"><rect x="313.7" y="226.4" width="10.2" height="24.8" fill="#fff"/><path d="M284.86 225.4L302.97 252.2M288.37 225.4L270.27 252.2M287.63 225.4L305.74 252.2M291.14 225.4L273.04 252.2M290.4 225.4L308.51 252.2M293.91 225.4L275.81 252.2M293.17 225.4L311.28 252.2M296.68 225.4L278.58 252.2M295.94 225.4L314.05 252.2M299.45 225.4L281.35 252.2M298.71 225.4L316.82 252.2M302.22 225.4L284.12 252.2M301.48 225.4L319.59 252.2M304.99 225.4L286.89 252.2M304.25 225.4L322.36 252.2M307.76 225.4L289.66 252.2M307.02 225.4L325.13 252.2M310.53 225.4L292.43 252.2M309.79 225.4L327.9 252.2M313.3 225.4L295.2 252.2M312.56 225.4L330.67 252.2M316.07 225.4L297.97 252.2M315.33 225.4L333.44 252.2M318.84 225.4L300.74 252.2M318.1 225.4L336.21 252.2M321.61 225.4L303.51 252.2M320.87 225.4L338.98 252.2M324.38 225.4L306.28 252.2M323.64 225.4L341.75 252.2M327.15 225.4L309.05 252.2M326.41 225.4L344.52 252.2M329.92 225.4L311.82 252.2M329.18 225.4L347.29 252.2M332.69 225.4L314.59 252.2M331.95 225.4L350.06 252.2M335.46 225.4L317.36 252.2M334.72 225.4L352.83 252.2M338.23 225.4L320.13 252.2M337.49 225.4L355.6 252.2M341 225.4L322.9 252.2M340.26 225.4L358.37 252.2M343.77 225.4L325.67 252.2M343.03 225.4L361.14 252.2M346.54 225.4L328.44 252.2M345.8 225.4L363.91 252.2M349.31 225.4L331.21 252.2M348.57 225.4L366.68 252.2M352.08 225.4L333.98 252.2" stroke="#000" stroke-width="0.55" fill="none"/></g>
<rect x="313.7" y="226.4" width="10.2" height="24.8" fill="none" stroke="#1a1a1a" stroke-width="1.05"/>
<rect x="313.7" y="223.7" width="10.2" height="2.7" fill="#000"/>
<path clip-path="url(#c41)" d="M314.6 225.4h1.5v1.3h-1.5zM317.45 225.4h1.5v1.3h-1.5zM320.3 225.4h1.5v1.3h-1.5zM323.15 225.4h1.5v1.3h-1.5z" fill="#fff"/>
<rect x="313.7" y="223.7" width="10.2" height="2.7" fill="none" stroke="#000" stroke-width="1.3"/>
<path clip-path="url(#c42)" d="M312.7 196.34L324.9 184.14M312.7 204.85L324.9 192.65M312.7 213.36L324.9 201.16M312.7 221.87L324.9 209.67M312.7 230.38L324.9 218.18M312.7 238.89L324.9 226.69M312.7 247.4L324.9 235.2" stroke="#000" stroke-width="1.05" fill="none"/>
<rect x="313.7" y="204.15" width="10.2" height="19.55" fill="none" stroke="#000" stroke-width="1.3"/>
<rect x="347.26" y="231.3" width="10.2" height="19.9" fill="#000"/>
<path clip-path="url(#c43)" d="M348.16 233h1.5v1.3h-1.5zM351.01 233h1.5v1.3h-1.5zM353.86 233h1.5v1.3h-1.5zM356.71 233h1.5v1.3h-1.5zM348.16 235.85h1.5v1.3h-1.5zM351.01 235.85h1.5v1.3h-1.5zM353.86 235.85h1.5v1.3h-1.5zM356.71 235.85h1.5v1.3h-1.5zM348.16 238.7h1.5v1.3h-1.5zM351.01 238.7h1.5v1.3h-1.5zM353.86 238.7h1.5v1.3h-1.5zM356.71 238.7h1.5v1.3h-1.5zM348.16 241.55h1.5v1.3h-1.5zM351.01 241.55h1.5v1.3h-1.5zM353.86 241.55h1.5v1.3h-1.5zM356.71 241.55h1.5v1.3h-1.5zM348.16 244.4h1.5v1.3h-1.5zM351.01 244.4h1.5v1.3h-1.5zM353.86 244.4h1.5v1.3h-1.5zM356.71 244.4h1.5v1.3h-1.5zM348.16 247.25h1.5v1.3h-1.5zM351.01 247.25h1.5v1.3h-1.5zM353.86 247.25h1.5v1.3h-1.5zM356.71 247.25h1.5v1.3h-1.5zM348.16 250.1h1.5v1.3h-1.5zM351.01 250.1h1.5v1.3h-1.5zM353.86 250.1h1.5v1.3h-1.5zM356.71 250.1h1.5v1.3h-1.5z" fill="#fff"/>
<rect x="347.26" y="231.3" width="10.2" height="19.9" fill="none" stroke="#000" stroke-width="1.3"/>
<path clip-path="url(#c44)" d="M346.26 187.84L358.46 175.64M346.26 196.35L358.46 184.15M346.26 204.86L358.46 192.66M346.26 213.37L358.46 201.17M346.26 221.88L358.46 209.68M346.26 230.39L358.46 218.19M346.26 238.9L358.46 226.7M346.26 247.41L358.46 235.21M346.26 255.92L358.46 243.72" stroke="#000" stroke-width="1.05" fill="none"/>
<rect x="347.26" y="195.65" width="10.2" height="35.65" fill="none" stroke="#000" stroke-width="1.3"/>
<g clip-path="url(#c45)"><rect x="364.03" y="235.2" width="10.2" height="16" fill="#fff"/><path d="M340.73 234.2L352.89 252.2M344.24 234.2L332.08 252.2M343.5 234.2L355.66 252.2M347.01 234.2L334.85 252.2M346.27 234.2L358.43 252.2M349.78 234.2L337.62 252.2M349.04 234.2L361.2 252.2M352.55 234.2L340.39 252.2M351.81 234.2L363.97 252.2M355.32 234.2L343.16 252.2M354.58 234.2L366.74 252.2M358.09 234.2L345.93 252.2M357.35 234.2L369.51 252.2M360.86 234.2L348.7 252.2M360.12 234.2L372.28 252.2M363.63 234.2L351.47 252.2M362.89 234.2L375.05 252.2M366.4 234.2L354.24 252.2M365.66 234.2L377.82 252.2M369.17 234.2L357.01 252.2M368.43 234.2L380.59 252.2M371.94 234.2L359.78 252.2M371.2 234.2L383.36 252.2M374.71 234.2L362.55 252.2M373.97 234.2L386.13 252.2M377.48 234.2L365.32 252.2M376.74 234.2L388.9 252.2M380.25 234.2L368.09 252.2M379.51 234.2L391.67 252.2M383.02 234.2L370.86 252.2M382.28 234.2L394.44 252.2M385.79 234.2L373.63 252.2M385.05 234.2L397.21 252.2M388.56 234.2L376.4 252.2M387.82 234.2L399.98 252.2M391.33 234.2L379.17 252.2M390.59 234.2L402.75 252.2M394.1 234.2L381.94 252.2M393.36 234.2L405.52 252.2M396.87 234.2L384.71 252.2" stroke="#000" stroke-width="0.55" fill="none"/></g>
<rect x="364.03" y="235.2" width="10.2" height="16" fill="none" stroke="#1a1a1a" stroke-width="1.05"/>
<rect x="364.03" y="223.9" width="10.2" height="11.3" fill="#000"/>
<path clip-path="url(#c46)" d="M364.93 225.6h1.5v1.3h-1.5zM367.78 225.6h1.5v1.3h-1.5zM370.63 225.6h1.5v1.3h-1.5zM373.48 225.6h1.5v1.3h-1.5zM364.93 228.45h1.5v1.3h-1.5zM367.78 228.45h1.5v1.3h-1.5zM370.63 228.45h1.5v1.3h-1.5zM373.48 228.45h1.5v1.3h-1.5zM364.93 231.3h1.5v1.3h-1.5zM367.78 231.3h1.5v1.3h-1.5zM370.63 231.3h1.5v1.3h-1.5zM373.48 231.3h1.5v1.3h-1.5zM364.93 234.15h1.5v1.3h-1.5zM367.78 234.15h1.5v1.3h-1.5zM370.63 234.15h1.5v1.3h-1.5zM373.48 234.15h1.5v1.3h-1.5z" fill="#fff"/>
<rect x="364.03" y="223.9" width="10.2" height="11.3" fill="none" stroke="#000" stroke-width="1.3"/>
<path clip-path="url(#c47)" d="M363.03 189.24L375.23 177.04M363.03 197.75L375.23 185.55M363.03 206.26L375.23 194.06M363.03 214.77L375.23 202.57M363.03 223.28L375.23 211.08M363.03 231.79L375.23 219.59M363.03 240.3L375.23 228.1M363.03 248.81L375.23 236.61" stroke="#000" stroke-width="1.05" fill="none"/>
<rect x="364.03" y="197.05" width="10.2" height="26.85" fill="none" stroke="#000" stroke-width="1.3"/>
<g clip-path="url(#c48)"><rect x="380.81" y="233.7" width="10.2" height="17.5" fill="#fff"/><path d="M357.51 232.7L370.68 252.2M361.02 232.7L347.85 252.2M360.28 232.7L373.45 252.2M363.79 232.7L350.62 252.2M363.05 232.7L376.22 252.2M366.56 232.7L353.39 252.2M365.82 232.7L378.99 252.2M369.33 232.7L356.16 252.2M368.59 232.7L381.76 252.2M372.1 232.7L358.93 252.2M371.36 232.7L384.53 252.2M374.87 232.7L361.7 252.2M374.13 232.7L387.3 252.2M377.64 232.7L364.47 252.2M376.9 232.7L390.07 252.2M380.41 232.7L367.24 252.2M379.67 232.7L392.84 252.2M383.18 232.7L370.01 252.2M382.44 232.7L395.61 252.2M385.95 232.7L372.78 252.2M385.21 232.7L398.38 252.2M388.72 232.7L375.55 252.2M387.98 232.7L401.15 252.2M391.49 232.7L378.32 252.2M390.75 232.7L403.92 252.2M394.26 232.7L381.09 252.2M393.52 232.7L406.69 252.2M397.03 232.7L383.86 252.2M396.29 232.7L409.46 252.2M399.8 232.7L386.63 252.2M399.06 232.7L412.23 252.2M402.57 232.7L389.4 252.2M401.83 232.7L415 252.2M405.34 232.7L392.17 252.2M404.6 232.7L417.77 252.2M408.11 232.7L394.94 252.2M407.37 232.7L420.54 252.2M410.88 232.7L397.71 252.2M410.14 232.7L423.31 252.2M413.65 232.7L400.48 252.2" stroke="#000" stroke-width="0.55" fill="none"/></g>
<rect x="380.81" y="233.7" width="10.2" height="17.5" fill="none" stroke="#1a1a1a" stroke-width="1.05"/>
<rect x="380.81" y="193.6" width="10.2" height="40.1" fill="#000"/>
<path clip-path="url(#c49)" d="M381.71 195.3h1.5v1.3h-1.5zM384.56 195.3h1.5v1.3h-1.5zM387.41 195.3h1.5v1.3h-1.5zM390.26 195.3h1.5v1.3h-1.5zM381.71 198.15h1.5v1.3h-1.5zM384.56 198.15h1.5v1.3h-1.5zM387.41 198.15h1.5v1.3h-1.5zM390.26 198.15h1.5v1.3h-1.5zM381.71 201h1.5v1.3h-1.5zM384.56 201h1.5v1.3h-1.5zM387.41 201h1.5v1.3h-1.5zM390.26 201h1.5v1.3h-1.5zM381.71 203.85h1.5v1.3h-1.5zM384.56 203.85h1.5v1.3h-1.5zM387.41 203.85h1.5v1.3h-1.5zM390.26 203.85h1.5v1.3h-1.5zM381.71 206.7h1.5v1.3h-1.5zM384.56 206.7h1.5v1.3h-1.5zM387.41 206.7h1.5v1.3h-1.5zM390.26 206.7h1.5v1.3h-1.5zM381.71 209.55h1.5v1.3h-1.5zM384.56 209.55h1.5v1.3h-1.5zM387.41 209.55h1.5v1.3h-1.5zM390.26 209.55h1.5v1.3h-1.5zM381.71 212.4h1.5v1.3h-1.5zM384.56 212.4h1.5v1.3h-1.5zM387.41 212.4h1.5v1.3h-1.5zM390.26 212.4h1.5v1.3h-1.5zM381.71 215.25h1.5v1.3h-1.5zM384.56 215.25h1.5v1.3h-1.5zM387.41 215.25h1.5v1.3h-1.5zM390.26 215.25h1.5v1.3h-1.5zM381.71 218.1h1.5v1.3h-1.5zM384.56 218.1h1.5v1.3h-1.5zM387.41 218.1h1.5v1.3h-1.5zM390.26 218.1h1.5v1.3h-1.5zM381.71 220.95h1.5v1.3h-1.5zM384.56 220.95h1.5v1.3h-1.5zM387.41 220.95h1.5v1.3h-1.5zM390.26 220.95h1.5v1.3h-1.5zM381.71 223.8h1.5v1.3h-1.5zM384.56 223.8h1.5v1.3h-1.5zM387.41 223.8h1.5v1.3h-1.5zM390.26 223.8h1.5v1.3h-1.5zM381.71 226.65h1.5v1.3h-1.5zM384.56 226.65h1.5v1.3h-1.5zM387.41 226.65h1.5v1.3h-1.5zM390.26 226.65h1.5v1.3h-1.5zM381.71 229.5h1.5v1.3h-1.5zM384.56 229.5h1.5v1.3h-1.5zM387.41 229.5h1.5v1.3h-1.5zM390.26 229.5h1.5v1.3h-1.5zM381.71 232.35h1.5v1.3h-1.5zM384.56 232.35h1.5v1.3h-1.5zM387.41 232.35h1.5v1.3h-1.5zM390.26 232.35h1.5v1.3h-1.5z" fill="#fff"/>
<rect x="380.81" y="193.6" width="10.2" height="40.1" fill="none" stroke="#000" stroke-width="1.3"/>
<path clip-path="url(#c50)" d="M379.81 151.64L392.01 139.44M379.81 160.15L392.01 147.95M379.81 168.66L392.01 156.46M379.81 177.17L392.01 164.97M379.81 185.68L392.01 173.48M379.81 194.19L392.01 181.99M379.81 202.7L392.01 190.5M379.81 211.21L392.01 199.01M379.81 219.72L392.01 207.52" stroke="#000" stroke-width="1.05" fill="none"/>
<rect x="380.81" y="159.45" width="10.2" height="34.15" fill="none" stroke="#000" stroke-width="1.3"/>
<g clip-path="url(#c51)"><rect x="397.59" y="233.1" width="10.2" height="18.1" fill="#fff"/><path d="M374.29 232.1L387.87 252.2M377.8 232.1L364.22 252.2M377.06 232.1L390.64 252.2M380.57 232.1L366.99 252.2M379.83 232.1L393.41 252.2M383.34 232.1L369.76 252.2M382.6 232.1L396.18 252.2M386.11 232.1L372.53 252.2M385.37 232.1L398.95 252.2M388.88 232.1L375.3 252.2M388.14 232.1L401.72 252.2M391.65 232.1L378.07 252.2M390.91 232.1L404.49 252.2M394.42 232.1L380.84 252.2M393.68 232.1L407.26 252.2M397.19 232.1L383.61 252.2M396.45 232.1L410.03 252.2M399.96 232.1L386.38 252.2M399.22 232.1L412.8 252.2M402.73 232.1L389.15 252.2M401.99 232.1L415.57 252.2M405.5 232.1L391.92 252.2M404.76 232.1L418.34 252.2M408.27 232.1L394.69 252.2M407.53 232.1L421.11 252.2M411.04 232.1L397.46 252.2M410.3 232.1L423.88 252.2M413.81 232.1L400.23 252.2M413.07 232.1L426.65 252.2M416.58 232.1L403 252.2M415.84 232.1L429.42 252.2M419.35 232.1L405.77 252.2M418.61 232.1L432.19 252.2M422.12 232.1L408.54 252.2M421.38 232.1L434.96 252.2M424.89 232.1L411.31 252.2M424.15 232.1L437.73 252.2M427.66 232.1L414.08 252.2M426.92 232.1L440.5 252.2M430.43 232.1L416.85 252.2" stroke="#000" stroke-width="0.55" fill="none"/></g>
<rect x="397.59" y="233.1" width="10.2" height="18.1" fill="none" stroke="#1a1a1a" stroke-width="1.05"/>
<g clip-path="url(#c52)"><rect x="431.14" y="241.6" width="10.2" height="9.6" fill="#fff"/><path d="M413.38 240.6L421.22 252.2M416.89 240.6L409.06 252.2M416.15 240.6L423.99 252.2M419.66 240.6L411.83 252.2M418.92 240.6L426.76 252.2M422.43 240.6L414.6 252.2M421.69 240.6L429.53 252.2M425.2 240.6L417.37 252.2M424.46 240.6L432.3 252.2M427.97 240.6L420.14 252.2M427.23 240.6L435.07 252.2M430.74 240.6L422.91 252.2M430 240.6L437.84 252.2M433.51 240.6L425.68 252.2M432.77 240.6L440.61 252.2M436.28 240.6L428.45 252.2M435.54 240.6L443.38 252.2M439.05 240.6L431.22 252.2M438.31 240.6L446.15 252.2M441.82 240.6L433.99 252.2M441.08 240.6L448.92 252.2M444.59 240.6L436.76 252.2M443.85 240.6L451.69 252.2M447.36 240.6L439.53 252.2M446.62 240.6L454.46 252.2M450.13 240.6L442.3 252.2M449.39 240.6L457.23 252.2M452.9 240.6L445.07 252.2M452.16 240.6L460 252.2M455.67 240.6L447.84 252.2M454.93 240.6L462.77 252.2M458.44 240.6L450.61 252.2" stroke="#000" stroke-width="0.55" fill="none"/></g>
<rect x="431.14" y="241.6" width="10.2" height="9.6" fill="none" stroke="#1a1a1a" stroke-width="1.05"/>
<rect x="431.14" y="169.6" width="10.2" height="72" fill="#000"/>
<path clip-path="url(#c53)" d="M432.04 171.3h1.5v1.3h-1.5zM434.89 171.3h1.5v1.3h-1.5zM437.74 171.3h1.5v1.3h-1.5zM440.59 171.3h1.5v1.3h-1.5zM432.04 174.15h1.5v1.3h-1.5zM434.89 174.15h1.5v1.3h-1.5zM437.74 174.15h1.5v1.3h-1.5zM440.59 174.15h1.5v1.3h-1.5zM432.04 177h1.5v1.3h-1.5zM434.89 177h1.5v1.3h-1.5zM437.74 177h1.5v1.3h-1.5zM440.59 177h1.5v1.3h-1.5zM432.04 179.85h1.5v1.3h-1.5zM434.89 179.85h1.5v1.3h-1.5zM437.74 179.85h1.5v1.3h-1.5zM440.59 179.85h1.5v1.3h-1.5zM432.04 182.7h1.5v1.3h-1.5zM434.89 182.7h1.5v1.3h-1.5zM437.74 182.7h1.5v1.3h-1.5zM440.59 182.7h1.5v1.3h-1.5zM432.04 185.55h1.5v1.3h-1.5zM434.89 185.55h1.5v1.3h-1.5zM437.74 185.55h1.5v1.3h-1.5zM440.59 185.55h1.5v1.3h-1.5zM432.04 188.4h1.5v1.3h-1.5zM434.89 188.4h1.5v1.3h-1.5zM437.74 188.4h1.5v1.3h-1.5zM440.59 188.4h1.5v1.3h-1.5zM432.04 191.25h1.5v1.3h-1.5zM434.89 191.25h1.5v1.3h-1.5zM437.74 191.25h1.5v1.3h-1.5zM440.59 191.25h1.5v1.3h-1.5zM432.04 194.1h1.5v1.3h-1.5zM434.89 194.1h1.5v1.3h-1.5zM437.74 194.1h1.5v1.3h-1.5zM440.59 194.1h1.5v1.3h-1.5zM432.04 196.95h1.5v1.3h-1.5zM434.89 196.95h1.5v1.3h-1.5zM437.74 196.95h1.5v1.3h-1.5zM440.59 196.95h1.5v1.3h-1.5zM432.04 199.8h1.5v1.3h-1.5zM434.89 199.8h1.5v1.3h-1.5zM437.74 199.8h1.5v1.3h-1.5zM440.59 199.8h1.5v1.3h-1.5zM432.04 202.65h1.5v1.3h-1.5zM434.89 202.65h1.5v1.3h-1.5zM437.74 202.65h1.5v1.3h-1.5zM440.59 202.65h1.5v1.3h-1.5zM432.04 205.5h1.5v1.3h-1.5zM434.89 205.5h1.5v1.3h-1.5zM437.74 205.5h1.5v1.3h-1.5zM440.59 205.5h1.5v1.3h-1.5zM432.04 208.35h1.5v1.3h-1.5zM434.89 208.35h1.5v1.3h-1.5zM437.74 208.35h1.5v1.3h-1.5zM440.59 208.35h1.5v1.3h-1.5zM432.04 211.2h1.5v1.3h-1.5zM434.89 211.2h1.5v1.3h-1.5zM437.74 211.2h1.5v1.3h-1.5zM440.59 211.2h1.5v1.3h-1.5zM432.04 214.05h1.5v1.3h-1.5zM434.89 214.05h1.5v1.3h-1.5zM437.74 214.05h1.5v1.3h-1.5zM440.59 214.05h1.5v1.3h-1.5zM432.04 216.9h1.5v1.3h-1.5zM434.89 216.9h1.5v1.3h-1.5zM437.74 216.9h1.5v1.3h-1.5zM440.59 216.9h1.5v1.3h-1.5zM432.04 219.75h1.5v1.3h-1.5zM434.89 219.75h1.5v1.3h-1.5zM437.74 219.75h1.5v1.3h-1.5zM440.59 219.75h1.5v1.3h-1.5zM432.04 222.6h1.5v1.3h-1.5zM434.89 222.6h1.5v1.3h-1.5zM437.74 222.6h1.5v1.3h-1.5zM440.59 222.6h1.5v1.3h-1.5zM432.04 225.45h1.5v1.3h-1.5zM434.89 225.45h1.5v1.3h-1.5zM437.74 225.45h1.5v1.3h-1.5zM440.59 225.45h1.5v1.3h-1.5zM432.04 228.3h1.5v1.3h-1.5zM434.89 228.3h1.5v1.3h-1.5zM437.74 228.3h1.5v1.3h-1.5zM440.59 228.3h1.5v1.3h-1.5zM432.04 231.15h1.5v1.3h-1.5zM434.89 231.15h1.5v1.3h-1.5zM437.74 231.15h1.5v1.3h-1.5zM440.59 231.15h1.5v1.3h-1.5zM432.04 234h1.5v1.3h-1.5zM434.89 234h1.5v1.3h-1.5zM437.74 234h1.5v1.3h-1.5zM440.59 234h1.5v1.3h-1.5zM432.04 236.85h1.5v1.3h-1.5zM434.89 236.85h1.5v1.3h-1.5zM437.74 236.85h1.5v1.3h-1.5zM440.59 236.85h1.5v1.3h-1.5zM432.04 239.7h1.5v1.3h-1.5zM434.89 239.7h1.5v1.3h-1.5zM437.74 239.7h1.5v1.3h-1.5zM440.59 239.7h1.5v1.3h-1.5z" fill="#fff"/>
<rect x="431.14" y="169.6" width="10.2" height="72" fill="none" stroke="#000" stroke-width="1.3"/>
<path clip-path="url(#c54)" d="M430.14 133.84L442.34 121.64M430.14 142.35L442.34 130.15M430.14 150.86L442.34 138.66M430.14 159.37L442.34 147.17M430.14 167.88L442.34 155.68M430.14 176.39L442.34 164.19M430.14 184.9L442.34 172.7M430.14 193.41L442.34 181.21" stroke="#000" stroke-width="1.05" fill="none"/>
<rect x="431.14" y="141.65" width="10.2" height="27.95" fill="none" stroke="#000" stroke-width="1.3"/>
<g clip-path="url(#c55)"><rect x="447.92" y="228.9" width="10.2" height="22.3" fill="#fff"/><path d="M421.85 227.9L438.26 252.2M425.36 227.9L408.94 252.2M424.62 227.9L441.03 252.2M428.13 227.9L411.71 252.2M427.39 227.9L443.8 252.2M430.9 227.9L414.48 252.2M430.16 227.9L446.57 252.2M433.67 227.9L417.25 252.2M432.93 227.9L449.34 252.2M436.44 227.9L420.02 252.2M435.7 227.9L452.11 252.2M439.21 227.9L422.79 252.2M438.47 227.9L454.88 252.2M441.98 227.9L425.56 252.2M441.24 227.9L457.65 252.2M444.75 227.9L428.33 252.2M444.01 227.9L460.42 252.2M447.52 227.9L431.1 252.2M446.78 227.9L463.19 252.2M450.29 227.9L433.87 252.2M449.55 227.9L465.96 252.2M453.06 227.9L436.64 252.2M452.32 227.9L468.73 252.2M455.83 227.9L439.41 252.2M455.09 227.9L471.5 252.2M458.6 227.9L442.18 252.2M457.86 227.9L474.27 252.2M461.37 227.9L444.95 252.2M460.63 227.9L477.04 252.2M464.14 227.9L447.72 252.2M463.4 227.9L479.81 252.2M466.91 227.9L450.49 252.2M466.17 227.9L482.58 252.2M469.68 227.9L453.26 252.2M468.94 227.9L485.35 252.2M472.45 227.9L456.03 252.2M471.71 227.9L488.12 252.2M475.22 227.9L458.8 252.2M474.48 227.9L490.89 252.2M477.99 227.9L461.57 252.2M477.25 227.9L493.66 252.2M480.76 227.9L464.34 252.2M480.02 227.9L496.43 252.2M483.53 227.9L467.11 252.2" stroke="#000" stroke-width="0.55" fill="none"/></g>
<rect x="447.92" y="228.9" width="10.2" height="22.3" fill="none" stroke="#1a1a1a" stroke-width="1.05"/>
<rect x="447.92" y="193.5" width="10.2" height="35.4" fill="#000"/>
<path clip-path="url(#c56)" d="M448.82 195.2h1.5v1.3h-1.5zM451.67 195.2h1.5v1.3h-1.5zM454.52 195.2h1.5v1.3h-1.5zM457.37 195.2h1.5v1.3h-1.5zM448.82 198.05h1.5v1.3h-1.5zM451.67 198.05h1.5v1.3h-1.5zM454.52 198.05h1.5v1.3h-1.5zM457.37 198.05h1.5v1.3h-1.5zM448.82 200.9h1.5v1.3h-1.5zM451.67 200.9h1.5v1.3h-1.5zM454.52 200.9h1.5v1.3h-1.5zM457.37 200.9h1.5v1.3h-1.5zM448.82 203.75h1.5v1.3h-1.5zM451.67 203.75h1.5v1.3h-1.5zM454.52 203.75h1.5v1.3h-1.5zM457.37 203.75h1.5v1.3h-1.5zM448.82 206.6h1.5v1.3h-1.5zM451.67 206.6h1.5v1.3h-1.5zM454.52 206.6h1.5v1.3h-1.5zM457.37 206.6h1.5v1.3h-1.5zM448.82 209.45h1.5v1.3h-1.5zM451.67 209.45h1.5v1.3h-1.5zM454.52 209.45h1.5v1.3h-1.5zM457.37 209.45h1.5v1.3h-1.5zM448.82 212.3h1.5v1.3h-1.5zM451.67 212.3h1.5v1.3h-1.5zM454.52 212.3h1.5v1.3h-1.5zM457.37 212.3h1.5v1.3h-1.5zM448.82 215.15h1.5v1.3h-1.5zM451.67 215.15h1.5v1.3h-1.5zM454.52 215.15h1.5v1.3h-1.5zM457.37 215.15h1.5v1.3h-1.5zM448.82 218h1.5v1.3h-1.5zM451.67 218h1.5v1.3h-1.5zM454.52 218h1.5v1.3h-1.5zM457.37 218h1.5v1.3h-1.5zM448.82 220.85h1.5v1.3h-1.5zM451.67 220.85h1.5v1.3h-1.5zM454.52 220.85h1.5v1.3h-1.5zM457.37 220.85h1.5v1.3h-1.5zM448.82 223.7h1.5v1.3h-1.5zM451.67 223.7h1.5v1.3h-1.5zM454.52 223.7h1.5v1.3h-1.5zM457.37 223.7h1.5v1.3h-1.5zM448.82 226.55h1.5v1.3h-1.5zM451.67 226.55h1.5v1.3h-1.5zM454.52 226.55h1.5v1.3h-1.5zM457.37 226.55h1.5v1.3h-1.5z" fill="#fff"/>
<rect x="447.92" y="193.5" width="10.2" height="35.4" fill="none" stroke="#000" stroke-width="1.3"/>
<path clip-path="url(#c57)" d="M446.92 153.94L459.12 141.74M446.92 162.45L459.12 150.25M446.92 170.96L459.12 158.76M446.92 179.47L459.12 167.27M446.92 187.98L459.12 175.78M446.92 196.49L459.12 184.29M446.92 205L459.12 192.8M446.92 213.51L459.12 201.31" stroke="#000" stroke-width="1.05" fill="none"/>
<rect x="447.92" y="161.75" width="10.2" height="31.75" fill="none" stroke="#000" stroke-width="1.3"/>
<g clip-path="url(#c58)"><rect x="464.69" y="248.8" width="10.2" height="2.4" fill="#fff"/><path d="M452.47 247.8L455.45 252.2M455.99 247.8L453.01 252.2M455.24 247.8L458.22 252.2M458.76 247.8L455.78 252.2M458.01 247.8L460.99 252.2M461.53 247.8L458.55 252.2M460.78 247.8L463.76 252.2M464.3 247.8L461.32 252.2M463.55 247.8L466.53 252.2M467.07 247.8L464.09 252.2M466.32 247.8L469.3 252.2M469.84 247.8L466.86 252.2M469.09 247.8L472.07 252.2M472.61 247.8L469.63 252.2M471.86 247.8L474.84 252.2M475.38 247.8L472.4 252.2M474.63 247.8L477.61 252.2M478.15 247.8L475.17 252.2M477.4 247.8L480.38 252.2M480.92 247.8L477.94 252.2M480.17 247.8L483.15 252.2M483.69 247.8L480.71 252.2M482.94 247.8L485.92 252.2M486.46 247.8L483.48 252.2M485.71 247.8L488.69 252.2M489.23 247.8L486.25 252.2" stroke="#000" stroke-width="0.55" fill="none"/></g>
<rect x="464.69" y="248.8" width="10.2" height="2.4" fill="none" stroke="#1a1a1a" stroke-width="1.05"/>
<rect x="464.69" y="228.1" width="10.2" height="20.7" fill="#000"/>
<path clip-path="url(#c59)" d="M465.6 229.8h1.5v1.3h-1.5zM468.45 229.8h1.5v1.3h-1.5zM471.3 229.8h1.5v1.3h-1.5zM474.15 229.8h1.5v1.3h-1.5zM465.6 232.65h1.5v1.3h-1.5zM468.45 232.65h1.5v1.3h-1.5zM471.3 232.65h1.5v1.3h-1.5zM474.15 232.65h1.5v1.3h-1.5zM465.6 235.5h1.5v1.3h-1.5zM468.45 235.5h1.5v1.3h-1.5zM471.3 235.5h1.5v1.3h-1.5zM474.15 235.5h1.5v1.3h-1.5zM465.6 238.35h1.5v1.3h-1.5zM468.45 238.35h1.5v1.3h-1.5zM471.3 238.35h1.5v1.3h-1.5zM474.15 238.35h1.5v1.3h-1.5zM465.6 241.2h1.5v1.3h-1.5zM468.45 241.2h1.5v1.3h-1.5zM471.3 241.2h1.5v1.3h-1.5zM474.15 241.2h1.5v1.3h-1.5zM465.6 244.05h1.5v1.3h-1.5zM468.45 244.05h1.5v1.3h-1.5zM471.3 244.05h1.5v1.3h-1.5zM474.15 244.05h1.5v1.3h-1.5zM465.6 246.9h1.5v1.3h-1.5zM468.45 246.9h1.5v1.3h-1.5zM471.3 246.9h1.5v1.3h-1.5zM474.15 246.9h1.5v1.3h-1.5z" fill="#fff"/>
<rect x="464.69" y="228.1" width="10.2" height="20.7" fill="none" stroke="#000" stroke-width="1.3"/>
<path clip-path="url(#c60)" d="M463.69 182.04L475.89 169.84M463.69 190.55L475.89 178.35M463.69 199.06L475.89 186.86M463.69 207.57L475.89 195.37M463.69 216.08L475.89 203.88M463.69 224.59L475.89 212.39M463.69 233.1L475.89 220.9M463.69 241.61L475.89 229.41M463.69 250.12L475.89 237.92" stroke="#000" stroke-width="1.05" fill="none"/>
<rect x="464.69" y="189.85" width="10.2" height="38.25" fill="none" stroke="#000" stroke-width="1.3"/>
<rect x="498.25" y="249.1" width="10.2" height="2.1" fill="#000" stroke="#000" stroke-width="1.3"/>
<g clip-path="url(#c61)"><rect x="498.25" y="223.8" width="10.2" height="25.3" fill="#fff"/><path d="M469.41 222.8L487.85 250.1M472.92 222.8L454.48 250.1M472.18 222.8L490.62 250.1M475.69 222.8L457.25 250.1M474.95 222.8L493.39 250.1M478.46 222.8L460.02 250.1M477.72 222.8L496.16 250.1M481.23 222.8L462.79 250.1M480.49 222.8L498.93 250.1M484 222.8L465.56 250.1M483.26 222.8L501.7 250.1M486.77 222.8L468.33 250.1M486.03 222.8L504.47 250.1M489.54 222.8L471.1 250.1M488.8 222.8L507.24 250.1M492.31 222.8L473.87 250.1M491.57 222.8L510.01 250.1M495.08 222.8L476.64 250.1M494.34 222.8L512.78 250.1M497.85 222.8L479.41 250.1M497.11 222.8L515.55 250.1M500.62 222.8L482.18 250.1M499.88 222.8L518.32 250.1M503.39 222.8L484.95 250.1M502.65 222.8L521.09 250.1M506.16 222.8L487.72 250.1M505.42 222.8L523.86 250.1M508.93 222.8L490.49 250.1M508.19 222.8L526.63 250.1M511.7 222.8L493.26 250.1M510.96 222.8L529.4 250.1M514.47 222.8L496.03 250.1M513.73 222.8L532.17 250.1M517.24 222.8L498.8 250.1M516.5 222.8L534.94 250.1M520.01 222.8L501.57 250.1M519.27 222.8L537.71 250.1M522.78 222.8L504.34 250.1M522.04 222.8L540.48 250.1M525.55 222.8L507.11 250.1M524.81 222.8L543.25 250.1M528.32 222.8L509.88 250.1M527.58 222.8L546.02 250.1M531.09 222.8L512.65 250.1M530.35 222.8L548.79 250.1M533.86 222.8L515.42 250.1M533.12 222.8L551.56 250.1M536.63 222.8L518.19 250.1" stroke="#000" stroke-width="0.55" fill="none"/></g>
<rect x="498.25" y="223.8" width="10.2" height="25.3" fill="none" stroke="#1a1a1a" stroke-width="1.05"/>
<rect x="498.25" y="221.4" width="10.2" height="2.4" fill="#000"/>
<path clip-path="url(#c62)" d="M499.15 223.1h1.5v1.3h-1.5zM502 223.1h1.5v1.3h-1.5zM504.85 223.1h1.5v1.3h-1.5zM507.7 223.1h1.5v1.3h-1.5z" fill="#fff"/>
<rect x="498.25" y="221.4" width="10.2" height="2.4" fill="none" stroke="#000" stroke-width="1.3"/>
<path clip-path="url(#c63)" d="M497.25 178.74L509.45 166.54M497.25 187.25L509.45 175.05M497.25 195.76L509.45 183.56M497.25 204.27L509.45 192.07M497.25 212.78L509.45 200.58M497.25 221.29L509.45 209.09M497.25 229.8L509.45 217.6M497.25 238.31L509.45 226.11M497.25 246.82L509.45 234.62" stroke="#000" stroke-width="1.05" fill="none"/>
<rect x="498.25" y="186.55" width="10.2" height="34.85" fill="none" stroke="#000" stroke-width="1.3"/>
<rect x="515.03" y="246" width="10.2" height="5.2" fill="#000" stroke="#000" stroke-width="1.3"/>
<g clip-path="url(#c64)"><rect x="515.03" y="241.3" width="10.2" height="4.7" fill="#fff"/><path d="M500.03 240.3L504.56 247M503.55 240.3L499.02 247M502.8 240.3L507.33 247M506.32 240.3L501.79 247M505.57 240.3L510.1 247M509.09 240.3L504.56 247M508.34 240.3L512.87 247M511.86 240.3L507.33 247M511.11 240.3L515.64 247M514.63 240.3L510.1 247M513.88 240.3L518.41 247M517.4 240.3L512.87 247M516.65 240.3L521.18 247M520.17 240.3L515.64 247M519.42 240.3L523.95 247M522.94 240.3L518.41 247M522.19 240.3L526.72 247M525.71 240.3L521.18 247M524.96 240.3L529.49 247M528.48 240.3L523.95 247M527.73 240.3L532.26 247M531.25 240.3L526.72 247M530.5 240.3L535.03 247M534.02 240.3L529.49 247M533.27 240.3L537.8 247M536.79 240.3L532.26 247M536.04 240.3L540.57 247M539.56 240.3L535.03 247" stroke="#000" stroke-width="0.55" fill="none"/></g>
<rect x="515.03" y="241.3" width="10.2" height="4.7" fill="none" stroke="#1a1a1a" stroke-width="1.05"/>
<rect x="515.03" y="237.8" width="10.2" height="3.5" fill="#000"/>
<path clip-path="url(#c65)" d="M515.93 239.5h1.5v1.3h-1.5zM518.78 239.5h1.5v1.3h-1.5zM521.63 239.5h1.5v1.3h-1.5zM524.48 239.5h1.5v1.3h-1.5z" fill="#fff"/>
<rect x="515.03" y="237.8" width="10.2" height="3.5" fill="none" stroke="#000" stroke-width="1.3"/>
<path clip-path="url(#c66)" d="M514.03 191.64L526.23 179.44M514.03 200.15L526.23 187.95M514.03 208.66L526.23 196.46M514.03 217.17L526.23 204.97M514.03 225.68L526.23 213.48M514.03 234.19L526.23 221.99M514.03 242.7L526.23 230.5M514.03 251.21L526.23 239.01M514.03 259.72L526.23 247.52" stroke="#000" stroke-width="1.05" fill="none"/>
<rect x="515.03" y="199.45" width="10.2" height="38.35" fill="none" stroke="#000" stroke-width="1.3"/>
<g clip-path="url(#c67)"><rect x="531.8" y="235.2" width="10.2" height="16" fill="#fff"/><path d="M508.5 234.2L520.66 252.2M512.01 234.2L499.85 252.2M511.27 234.2L523.43 252.2M514.78 234.2L502.62 252.2M514.04 234.2L526.2 252.2M517.55 234.2L505.39 252.2M516.81 234.2L528.97 252.2M520.32 234.2L508.16 252.2M519.58 234.2L531.74 252.2M523.09 234.2L510.93 252.2M522.35 234.2L534.51 252.2M525.86 234.2L513.7 252.2M525.12 234.2L537.28 252.2M528.63 234.2L516.47 252.2M527.89 234.2L540.05 252.2M531.4 234.2L519.24 252.2M530.66 234.2L542.82 252.2M534.17 234.2L522.01 252.2M533.43 234.2L545.59 252.2M536.94 234.2L524.78 252.2M536.2 234.2L548.36 252.2M539.71 234.2L527.55 252.2M538.97 234.2L551.13 252.2M542.48 234.2L530.32 252.2M541.74 234.2L553.9 252.2M545.25 234.2L533.09 252.2M544.51 234.2L556.67 252.2M548.02 234.2L535.86 252.2M547.28 234.2L559.44 252.2M550.79 234.2L538.63 252.2M550.05 234.2L562.21 252.2M553.56 234.2L541.4 252.2M552.82 234.2L564.98 252.2M556.33 234.2L544.17 252.2M555.59 234.2L567.75 252.2M559.1 234.2L546.94 252.2M558.36 234.2L570.52 252.2M561.87 234.2L549.71 252.2M561.13 234.2L573.29 252.2M564.64 234.2L552.48 252.2" stroke="#000" stroke-width="0.55" fill="none"/></g>
<rect x="531.8" y="235.2" width="10.2" height="16" fill="none" stroke="#1a1a1a" stroke-width="1.05"/>
<rect x="531.8" y="231.8" width="10.2" height="3.4" fill="#000"/>
<path clip-path="url(#c68)" d="M532.7 233.5h1.5v1.3h-1.5zM535.55 233.5h1.5v1.3h-1.5zM538.4 233.5h1.5v1.3h-1.5zM541.25 233.5h1.5v1.3h-1.5z" fill="#fff"/>
<rect x="531.8" y="231.8" width="10.2" height="3.4" fill="none" stroke="#000" stroke-width="1.3"/>
<path clip-path="url(#c69)" d="M530.8 23.34L543 11.14M530.8 31.85L543 19.65M530.8 40.36L543 28.16M530.8 48.87L543 36.67M530.8 57.38L543 45.18M530.8 65.89L543 53.69M530.8 74.4L543 62.2M530.8 82.91L543 70.71M530.8 91.42L543 79.22M530.8 99.93L543 87.73M530.8 108.44L543 96.24M530.8 116.95L543 104.75M530.8 125.46L543 113.26M530.8 133.97L543 121.77M530.8 142.48L543 130.28M530.8 150.99L543 138.79M530.8 159.5L543 147.3M530.8 168.01L543 155.81M530.8 176.52L543 164.32M530.8 185.03L543 172.83M530.8 193.54L543 181.34M530.8 202.05L543 189.85M530.8 210.56L543 198.36M530.8 219.07L543 206.87M530.8 227.58L543 215.38M530.8 236.09L543 223.89M530.8 244.6L543 232.4M530.8 253.11L543 240.91" stroke="#000" stroke-width="1.05" fill="none"/>
<rect x="531.8" y="31.15" width="10.2" height="200.65" fill="none" stroke="#000" stroke-width="1.3"/>
<g clip-path="url(#c70)"><rect x="548.58" y="231.3" width="10.2" height="19.9" fill="#fff"/><path d="M522.51 230.3L537.3 252.2M526.02 230.3L511.23 252.2M525.28 230.3L540.07 252.2M528.79 230.3L514 252.2M528.05 230.3L542.84 252.2M531.56 230.3L516.77 252.2M530.82 230.3L545.61 252.2M534.33 230.3L519.54 252.2M533.59 230.3L548.38 252.2M537.1 230.3L522.31 252.2M536.36 230.3L551.15 252.2M539.87 230.3L525.08 252.2M539.13 230.3L553.92 252.2M542.64 230.3L527.85 252.2M541.9 230.3L556.69 252.2M545.41 230.3L530.62 252.2M544.67 230.3L559.46 252.2M548.18 230.3L533.39 252.2M547.44 230.3L562.23 252.2M550.95 230.3L536.16 252.2M550.21 230.3L565 252.2M553.72 230.3L538.93 252.2M552.98 230.3L567.77 252.2M556.49 230.3L541.7 252.2M555.75 230.3L570.54 252.2M559.26 230.3L544.47 252.2M558.52 230.3L573.31 252.2M562.03 230.3L547.24 252.2M561.29 230.3L576.08 252.2M564.8 230.3L550.01 252.2M564.06 230.3L578.85 252.2M567.57 230.3L552.78 252.2M566.83 230.3L581.62 252.2M570.34 230.3L555.55 252.2M569.6 230.3L584.39 252.2M573.11 230.3L558.32 252.2M572.37 230.3L587.16 252.2M575.88 230.3L561.09 252.2M575.14 230.3L589.93 252.2M578.65 230.3L563.86 252.2M577.91 230.3L592.7 252.2M581.42 230.3L566.63 252.2M580.68 230.3L595.47 252.2M584.19 230.3L569.4 252.2" stroke="#000" stroke-width="0.55" fill="none"/></g>
<rect x="548.58" y="231.3" width="10.2" height="19.9" fill="none" stroke="#1a1a1a" stroke-width="1.05"/>
<rect x="548.58" y="222.8" width="10.2" height="8.5" fill="#000"/>
<path clip-path="url(#c71)" d="M549.48 224.5h1.5v1.3h-1.5zM552.33 224.5h1.5v1.3h-1.5zM555.18 224.5h1.5v1.3h-1.5zM558.03 224.5h1.5v1.3h-1.5zM549.48 227.35h1.5v1.3h-1.5zM552.33 227.35h1.5v1.3h-1.5zM555.18 227.35h1.5v1.3h-1.5zM558.03 227.35h1.5v1.3h-1.5zM549.48 230.2h1.5v1.3h-1.5zM552.33 230.2h1.5v1.3h-1.5zM555.18 230.2h1.5v1.3h-1.5zM558.03 230.2h1.5v1.3h-1.5z" fill="#fff"/>
<rect x="548.58" y="222.8" width="10.2" height="8.5" fill="none" stroke="#000" stroke-width="1.3"/>
<path clip-path="url(#c72)" d="M547.58 140.34L559.78 128.14M547.58 148.85L559.78 136.65M547.58 157.36L559.78 145.16M547.58 165.87L559.78 153.67M547.58 174.38L559.78 162.18M547.58 182.89L559.78 170.69M547.58 191.4L559.78 179.2M547.58 199.91L559.78 187.71M547.58 208.42L559.78 196.22M547.58 216.93L559.78 204.73M547.58 225.44L559.78 213.24M547.58 233.95L559.78 221.75M547.58 242.46L559.78 230.26M547.58 250.97L559.78 238.77" stroke="#000" stroke-width="1.05" fill="none"/>
<rect x="548.58" y="148.15" width="10.2" height="74.65" fill="none" stroke="#000" stroke-width="1.3"/>
<g clip-path="url(#c73)"><rect x="565.36" y="229.2" width="10.2" height="22" fill="#fff"/><path d="M539.29 228.2L555.5 252.2M542.8 228.2L526.58 252.2M542.06 228.2L558.27 252.2M545.57 228.2L529.35 252.2M544.83 228.2L561.04 252.2M548.34 228.2L532.12 252.2M547.6 228.2L563.81 252.2M551.11 228.2L534.89 252.2M550.37 228.2L566.58 252.2M553.88 228.2L537.66 252.2M553.14 228.2L569.35 252.2M556.65 228.2L540.43 252.2M555.91 228.2L572.12 252.2M559.42 228.2L543.2 252.2M558.68 228.2L574.89 252.2M562.19 228.2L545.97 252.2M561.45 228.2L577.66 252.2M564.96 228.2L548.74 252.2M564.22 228.2L580.43 252.2M567.73 228.2L551.51 252.2M566.99 228.2L583.2 252.2M570.5 228.2L554.28 252.2M569.76 228.2L585.97 252.2M573.27 228.2L557.05 252.2M572.53 228.2L588.74 252.2M576.04 228.2L559.82 252.2M575.3 228.2L591.51 252.2M578.81 228.2L562.59 252.2M578.07 228.2L594.28 252.2M581.58 228.2L565.36 252.2M580.84 228.2L597.05 252.2M584.35 228.2L568.13 252.2M583.61 228.2L599.82 252.2M587.12 228.2L570.9 252.2M586.38 228.2L602.59 252.2M589.89 228.2L573.67 252.2M589.15 228.2L605.36 252.2M592.66 228.2L576.44 252.2M591.92 228.2L608.13 252.2M595.43 228.2L579.21 252.2M594.69 228.2L610.9 252.2M598.2 228.2L581.98 252.2M597.46 228.2L613.67 252.2M600.97 228.2L584.75 252.2" stroke="#000" stroke-width="0.55" fill="none"/></g>
<rect x="565.36" y="229.2" width="10.2" height="22" fill="none" stroke="#1a1a1a" stroke-width="1.05"/>
<rect x="565.36" y="217.4" width="10.2" height="11.8" fill="#000"/>
<path clip-path="url(#c74)" d="M566.26 219.1h1.5v1.3h-1.5zM569.11 219.1h1.5v1.3h-1.5zM571.96 219.1h1.5v1.3h-1.5zM574.81 219.1h1.5v1.3h-1.5zM566.26 221.95h1.5v1.3h-1.5zM569.11 221.95h1.5v1.3h-1.5zM571.96 221.95h1.5v1.3h-1.5zM574.81 221.95h1.5v1.3h-1.5zM566.26 224.8h1.5v1.3h-1.5zM569.11 224.8h1.5v1.3h-1.5zM571.96 224.8h1.5v1.3h-1.5zM574.81 224.8h1.5v1.3h-1.5zM566.26 227.65h1.5v1.3h-1.5zM569.11 227.65h1.5v1.3h-1.5zM571.96 227.65h1.5v1.3h-1.5zM574.81 227.65h1.5v1.3h-1.5z" fill="#fff"/>
<rect x="565.36" y="217.4" width="10.2" height="11.8" fill="none" stroke="#000" stroke-width="1.3"/>
<path clip-path="url(#c75)" d="M564.36 189.44L576.56 177.24M564.36 197.95L576.56 185.75M564.36 206.46L576.56 194.26M564.36 214.97L576.56 202.77M564.36 223.48L576.56 211.28M564.36 231.99L576.56 219.79M564.36 240.5L576.56 228.3" stroke="#000" stroke-width="1.05" fill="none"/>
<rect x="565.36" y="197.25" width="10.2" height="20.15" fill="none" stroke="#000" stroke-width="1.3"/>
<g clip-path="url(#c76)"><rect x="582.13" y="230.9" width="10.2" height="20.3" fill="#fff"/><path d="M556.06 229.9L571.13 252.2M559.58 229.9L544.51 252.2M558.83 229.9L573.9 252.2M562.35 229.9L547.28 252.2M561.6 229.9L576.67 252.2M565.12 229.9L550.05 252.2M564.37 229.9L579.44 252.2M567.89 229.9L552.82 252.2M567.14 229.9L582.21 252.2M570.66 229.9L555.59 252.2M569.91 229.9L584.98 252.2M573.43 229.9L558.36 252.2M572.68 229.9L587.75 252.2M576.2 229.9L561.13 252.2M575.45 229.9L590.52 252.2M578.97 229.9L563.9 252.2M578.22 229.9L593.29 252.2M581.74 229.9L566.67 252.2M580.99 229.9L596.06 252.2M584.51 229.9L569.44 252.2M583.76 229.9L598.83 252.2M587.28 229.9L572.21 252.2M586.53 229.9L601.6 252.2M590.05 229.9L574.98 252.2M589.3 229.9L604.37 252.2M592.82 229.9L577.75 252.2M592.07 229.9L607.14 252.2M595.59 229.9L580.52 252.2M594.84 229.9L609.91 252.2M598.36 229.9L583.29 252.2M597.61 229.9L612.68 252.2M601.13 229.9L586.06 252.2M600.38 229.9L615.45 252.2M603.9 229.9L588.83 252.2M603.15 229.9L618.22 252.2M606.67 229.9L591.6 252.2M605.92 229.9L620.99 252.2M609.44 229.9L594.37 252.2M608.69 229.9L623.76 252.2M612.21 229.9L597.14 252.2M611.46 229.9L626.53 252.2M614.98 229.9L599.91 252.2M614.23 229.9L629.3 252.2M617.75 229.9L602.68 252.2" stroke="#000" stroke-width="0.55" fill="none"/></g>
<rect x="582.13" y="230.9" width="10.2" height="20.3" fill="none" stroke="#1a1a1a" stroke-width="1.05"/>
<rect x="582.13" y="204" width="10.2" height="26.9" fill="#000"/>
<path clip-path="url(#c77)" d="M583.03 205.7h1.5v1.3h-1.5zM585.88 205.7h1.5v1.3h-1.5zM588.73 205.7h1.5v1.3h-1.5zM591.58 205.7h1.5v1.3h-1.5zM583.03 208.55h1.5v1.3h-1.5zM585.88 208.55h1.5v1.3h-1.5zM588.73 208.55h1.5v1.3h-1.5zM591.58 208.55h1.5v1.3h-1.5zM583.03 211.4h1.5v1.3h-1.5zM585.88 211.4h1.5v1.3h-1.5zM588.73 211.4h1.5v1.3h-1.5zM591.58 211.4h1.5v1.3h-1.5zM583.03 214.25h1.5v1.3h-1.5zM585.88 214.25h1.5v1.3h-1.5zM588.73 214.25h1.5v1.3h-1.5zM591.58 214.25h1.5v1.3h-1.5zM583.03 217.1h1.5v1.3h-1.5zM585.88 217.1h1.5v1.3h-1.5zM588.73 217.1h1.5v1.3h-1.5zM591.58 217.1h1.5v1.3h-1.5zM583.03 219.95h1.5v1.3h-1.5zM585.88 219.95h1.5v1.3h-1.5zM588.73 219.95h1.5v1.3h-1.5zM591.58 219.95h1.5v1.3h-1.5zM583.03 222.8h1.5v1.3h-1.5zM585.88 222.8h1.5v1.3h-1.5zM588.73 222.8h1.5v1.3h-1.5zM591.58 222.8h1.5v1.3h-1.5zM583.03 225.65h1.5v1.3h-1.5zM585.88 225.65h1.5v1.3h-1.5zM588.73 225.65h1.5v1.3h-1.5zM591.58 225.65h1.5v1.3h-1.5zM583.03 228.5h1.5v1.3h-1.5zM585.88 228.5h1.5v1.3h-1.5zM588.73 228.5h1.5v1.3h-1.5zM591.58 228.5h1.5v1.3h-1.5z" fill="#fff"/>
<rect x="582.13" y="204" width="10.2" height="26.9" fill="none" stroke="#000" stroke-width="1.3"/>
<path clip-path="url(#c78)" d="M581.13 169.64L593.33 157.44M581.13 178.15L593.33 165.95M581.13 186.66L593.33 174.46M581.13 195.17L593.33 182.97M581.13 203.68L593.33 191.48M581.13 212.19L593.33 199.99M581.13 220.7L593.33 208.5M581.13 229.21L593.33 217.01" stroke="#000" stroke-width="1.05" fill="none"/>
<rect x="582.13" y="177.45" width="10.2" height="26.55" fill="none" stroke="#000" stroke-width="1.3"/>
<g clip-path="url(#c79)"><rect x="598.91" y="233.5" width="10.2" height="17.7" fill="#fff"/><path d="M575.61 232.5L588.92 252.2M579.12 232.5L565.81 252.2M578.38 232.5L591.69 252.2M581.89 232.5L568.58 252.2M581.15 232.5L594.46 252.2M584.66 232.5L571.35 252.2M583.92 232.5L597.23 252.2M587.43 232.5L574.12 252.2M586.69 232.5L600 252.2M590.2 232.5L576.89 252.2M589.46 232.5L602.77 252.2M592.97 232.5L579.66 252.2M592.23 232.5L605.54 252.2M595.74 232.5L582.43 252.2M595 232.5L608.31 252.2M598.51 232.5L585.2 252.2M597.77 232.5L611.08 252.2M601.28 232.5L587.97 252.2M600.54 232.5L613.85 252.2M604.05 232.5L590.74 252.2M603.31 232.5L616.62 252.2M606.82 232.5L593.51 252.2M606.08 232.5L619.39 252.2M609.59 232.5L596.28 252.2M608.85 232.5L622.16 252.2M612.36 232.5L599.05 252.2M611.62 232.5L624.93 252.2M615.13 232.5L601.82 252.2M614.39 232.5L627.7 252.2M617.9 232.5L604.59 252.2M617.16 232.5L630.47 252.2M620.67 232.5L607.36 252.2M619.93 232.5L633.24 252.2M623.44 232.5L610.13 252.2M622.7 232.5L636.01 252.2M626.21 232.5L612.9 252.2M625.47 232.5L638.78 252.2M628.98 232.5L615.67 252.2M628.24 232.5L641.55 252.2M631.75 232.5L618.44 252.2" stroke="#000" stroke-width="0.55" fill="none"/></g>
<rect x="598.91" y="233.5" width="10.2" height="17.7" fill="none" stroke="#1a1a1a" stroke-width="1.05"/>
<rect x="598.91" y="216.4" width="10.2" height="17.1" fill="#000"/>
<path clip-path="url(#c80)" d="M599.81 218.1h1.5v1.3h-1.5zM602.66 218.1h1.5v1.3h-1.5zM605.51 218.1h1.5v1.3h-1.5zM608.36 218.1h1.5v1.3h-1.5zM599.81 220.95h1.5v1.3h-1.5zM602.66 220.95h1.5v1.3h-1.5zM605.51 220.95h1.5v1.3h-1.5zM608.36 220.95h1.5v1.3h-1.5zM599.81 223.8h1.5v1.3h-1.5zM602.66 223.8h1.5v1.3h-1.5zM605.51 223.8h1.5v1.3h-1.5zM608.36 223.8h1.5v1.3h-1.5zM599.81 226.65h1.5v1.3h-1.5zM602.66 226.65h1.5v1.3h-1.5zM605.51 226.65h1.5v1.3h-1.5zM608.36 226.65h1.5v1.3h-1.5zM599.81 229.5h1.5v1.3h-1.5zM602.66 229.5h1.5v1.3h-1.5zM605.51 229.5h1.5v1.3h-1.5zM608.36 229.5h1.5v1.3h-1.5zM599.81 232.35h1.5v1.3h-1.5zM602.66 232.35h1.5v1.3h-1.5zM605.51 232.35h1.5v1.3h-1.5zM608.36 232.35h1.5v1.3h-1.5z" fill="#fff"/>
<rect x="598.91" y="216.4" width="10.2" height="17.1" fill="none" stroke="#000" stroke-width="1.3"/>
<path clip-path="url(#c81)" d="M597.91 177.74L610.11 165.54M597.91 186.25L610.11 174.05M597.91 194.76L610.11 182.56M597.91 203.27L610.11 191.07M597.91 211.78L610.11 199.58M597.91 220.29L610.11 208.09M597.91 228.8L610.11 216.6M597.91 237.31L610.11 225.11" stroke="#000" stroke-width="1.05" fill="none"/>
<rect x="598.91" y="185.55" width="10.2" height="30.85" fill="none" stroke="#000" stroke-width="1.3"/>
<line x1="134.25" y1="67.2" x2="134.25" y2="251.20" stroke="#000" stroke-width="1.25" stroke-dasharray="5.4 5.15"/>
<line x1="218.14" y1="67.2" x2="218.14" y2="251.20" stroke="#000" stroke-width="1.25" stroke-dasharray="5.4 5.15"/>
<line x1="335.58" y1="67.2" x2="335.58" y2="251.20" stroke="#000" stroke-width="1.25" stroke-dasharray="5.4 5.15"/>
<line x1="419.46" y1="67.2" x2="419.46" y2="251.20" stroke="#000" stroke-width="1.25" stroke-dasharray="5.4 5.15"/>
<line x1="486.57" y1="67.2" x2="486.57" y2="251.20" stroke="#000" stroke-width="1.25" stroke-dasharray="5.4 5.15"/>
<g stroke="#000" stroke-width="1.4" fill="none">
<line x1="43.8" y1="6.6" x2="621.4" y2="6.6"/>
<line x1="43.8" y1="251.20" x2="621.4" y2="251.20"/>
<line x1="50.4" y1="5.9" x2="50.4" y2="257.6"/>
<line x1="620.8" y1="5.9" x2="620.8" y2="257.6" stroke-width="1.7"/>
<line x1="43.8" y1="251.20" x2="50.4" y2="251.20"/>
<line x1="47.0" y1="235.91" x2="50.4" y2="235.91"/>
<line x1="43.8" y1="220.62" x2="50.4" y2="220.62"/>
<line x1="47.0" y1="205.34" x2="50.4" y2="205.34"/>
<line x1="43.8" y1="190.05" x2="50.4" y2="190.05"/>
<line x1="47.0" y1="174.76" x2="50.4" y2="174.76"/>
<line x1="43.8" y1="159.47" x2="50.4" y2="159.47"/>
<line x1="47.0" y1="144.19" x2="50.4" y2="144.19"/>
<line x1="43.8" y1="128.90" x2="50.4" y2="128.90"/>
<line x1="47.0" y1="113.61" x2="50.4" y2="113.61"/>
<line x1="43.8" y1="98.32" x2="50.4" y2="98.32"/>
<line x1="47.0" y1="83.04" x2="50.4" y2="83.04"/>
<line x1="43.8" y1="67.75" x2="50.4" y2="67.75"/>
<line x1="47.0" y1="52.46" x2="50.4" y2="52.46"/>
<line x1="43.8" y1="37.17" x2="50.4" y2="37.17"/>
<line x1="47.0" y1="21.89" x2="50.4" y2="21.89"/>
<line x1="43.8" y1="6.60" x2="50.4" y2="6.60"/>
<line x1="67.15" y1="251.20" x2="67.15" y2="257.6"/>
<line x1="83.92" y1="251.20" x2="83.92" y2="257.6"/>
<line x1="100.70" y1="251.20" x2="100.70" y2="257.6"/>
<line x1="117.48" y1="251.20" x2="117.48" y2="257.6"/>
<line x1="151.03" y1="251.20" x2="151.03" y2="257.6"/>
<line x1="167.81" y1="251.20" x2="167.81" y2="257.6"/>
<line x1="184.59" y1="251.20" x2="184.59" y2="257.6"/>
<line x1="201.36" y1="251.20" x2="201.36" y2="257.6"/>
<line x1="234.92" y1="251.20" x2="234.92" y2="257.6"/>
<line x1="251.69" y1="251.20" x2="251.69" y2="257.6"/>
<line x1="268.47" y1="251.20" x2="268.47" y2="257.6"/>
<line x1="285.25" y1="251.20" x2="285.25" y2="257.6"/>
<line x1="302.03" y1="251.20" x2="302.03" y2="257.6"/>
<line x1="318.80" y1="251.20" x2="318.80" y2="257.6"/>
<line x1="352.36" y1="251.20" x2="352.36" y2="257.6"/>
<line x1="369.13" y1="251.20" x2="369.13" y2="257.6"/>
<line x1="385.91" y1="251.20" x2="385.91" y2="257.6"/>
<line x1="402.69" y1="251.20" x2="402.69" y2="257.6"/>
<line x1="436.24" y1="251.20" x2="436.24" y2="257.6"/>
<line x1="453.02" y1="251.20" x2="453.02" y2="257.6"/>
<line x1="469.80" y1="251.20" x2="469.80" y2="257.6"/>
<line x1="503.35" y1="251.20" x2="503.35" y2="257.6"/>
<line x1="520.13" y1="251.20" x2="520.13" y2="257.6"/>
<line x1="536.90" y1="251.20" x2="536.90" y2="257.6"/>
<line x1="553.68" y1="251.20" x2="553.68" y2="257.6"/>
<line x1="570.46" y1="251.20" x2="570.46" y2="257.6"/>
<line x1="587.23" y1="251.20" x2="587.23" y2="257.6"/>
<line x1="604.01" y1="251.20" x2="604.01" y2="257.6"/>
</g>
<text id="t_y0" x="40.6" y="256.10" font-size="16" text-anchor="end">0</text>
<text id="t_y2" x="40.6" y="225.53" font-size="16" text-anchor="end">2</text>
<text id="t_y4" x="40.6" y="194.95" font-size="16" text-anchor="end">4</text>
<text id="t_y6" x="40.6" y="164.38" font-size="16" text-anchor="end">6</text>
<text id="t_y8" x="40.6" y="133.80" font-size="16" text-anchor="end">8</text>
<text id="t_y10" x="40.6" y="103.22" font-size="16" text-anchor="end">10</text>
<text id="t_y12" x="40.6" y="72.65" font-size="16" text-anchor="end">12</text>
<text id="t_y14" x="40.6" y="42.07" font-size="16" text-anchor="end">14</text>
<text id="t_y16" x="40.6" y="11.50" font-size="16" text-anchor="end">16</text>
<text id="t_xY25" transform="translate(59.65,266.00) rotate(48.0)" font-size="11.80">Y25</text>
<text id="t_xY26" transform="translate(76.42,266.00) rotate(48.0)" font-size="11.80">Y26</text>
<text id="t_xY27" transform="translate(93.20,266.00) rotate(48.0)" font-size="11.80">Y27</text>
<text id="t_xY28" transform="translate(109.98,266.00) rotate(48.0)" font-size="11.80">Y28</text>
<text id="t_xY4" transform="translate(143.53,266.00) rotate(48.0)" font-size="11.80">Y4</text>
<text id="t_xY5" transform="translate(160.31,266.00) rotate(48.0)" font-size="11.80">Y5</text>
<text id="t_xY6" transform="translate(177.09,266.00) rotate(48.0)" font-size="11.80">Y6</text>
<text id="t_xY11" transform="translate(193.86,266.00) rotate(48.0)" font-size="11.80">Y11</text>
<text id="t_xY9" transform="translate(227.42,266.00) rotate(48.0)" font-size="11.80">Y9</text>
<text id="t_xY10" transform="translate(244.19,266.00) rotate(48.0)" font-size="11.80">Y10</text>
<text id="t_xY24" transform="translate(260.97,266.00) rotate(48.0)" font-size="11.80">Y24</text>
<text id="t_xY16" transform="translate(277.75,266.00) rotate(48.0)" font-size="11.80">Y16</text>
<text id="t_xY17" transform="translate(294.53,266.00) rotate(48.0)" font-size="11.80">Y17</text>
<text id="t_xY19" transform="translate(311.30,266.00) rotate(48.0)" font-size="11.80">Y19</text>
<text id="t_xY12" transform="translate(344.86,266.00) rotate(48.0)" font-size="11.80">Y12</text>
<text id="t_xY13" transform="translate(361.63,266.00) rotate(48.0)" font-size="11.80">Y13</text>
<text id="t_xY14" transform="translate(378.41,266.00) rotate(48.0)" font-size="11.80">Y14</text>
<text id="t_xY15" transform="translate(395.19,266.00) rotate(48.0)" font-size="11.80">Y15</text>
<text id="t_xY21" transform="translate(428.74,266.00) rotate(48.0)" font-size="11.80">Y21</text>
<text id="t_xY22" transform="translate(445.52,266.00) rotate(48.0)" font-size="11.80">Y22</text>
<text id="t_xY23" transform="translate(462.30,266.00) rotate(48.0)" font-size="11.80">Y23</text>
<text id="t_xY18" transform="translate(495.85,266.00) rotate(48.0)" font-size="11.80">Y18</text>
<text id="t_xY20" transform="translate(512.63,266.00) rotate(48.0)" font-size="11.80">Y20</text>
<text id="t_xY7" transform="translate(529.40,266.00) rotate(48.0)" font-size="11.80">Y7</text>
<text id="t_xY8" transform="translate(546.18,266.00) rotate(48.0)" font-size="11.80">Y8</text>
<text id="t_xY2" transform="translate(562.96,266.00) rotate(48.0)" font-size="11.80">Y2</text>
<text id="t_xY3" transform="translate(579.73,266.00) rotate(48.0)" font-size="11.80">Y3</text>
<text id="t_xY1" transform="translate(596.51,266.00) rotate(48.0)" font-size="11.80">Y1</text>
<text id="t_title" transform="translate(13.4,196.6) rotate(-90)" font-size="18.7" font-weight="bold">Risk Quotient</text>
<path clip-path="url(#c82)" d="M59.1 6.29L81.1 -15.71M59.1 14.8L81.1 -7.2M59.1 23.31L81.1 1.31M59.1 31.82L81.1 9.82M59.1 40.33L81.1 18.33M59.1 48.84L81.1 26.84M59.1 57.35L81.1 35.35M59.1 65.86L81.1 43.86" stroke="#000" stroke-width="1.05" fill="none"/>
<rect x="60.1" y="14.1" width="20" height="15.45" fill="none" stroke="#000" stroke-width="1.5"/>
<g clip-path="url(#c83)"><rect x="60.4" y="36.6" width="20" height="15.6" fill="#fff"/><path d="M39.47 35.6L51.36 53.2M42.98 35.6L31.09 53.2M42.24 35.6L54.13 53.2M45.75 35.6L33.86 53.2M45.01 35.6L56.9 53.2M48.52 35.6L36.63 53.2M47.78 35.6L59.67 53.2M51.29 35.6L39.4 53.2M50.55 35.6L62.44 53.2M54.06 35.6L42.17 53.2M53.32 35.6L65.21 53.2M56.83 35.6L44.94 53.2M56.09 35.6L67.98 53.2M59.6 35.6L47.71 53.2M58.86 35.6L70.75 53.2M62.37 35.6L50.48 53.2M61.63 35.6L73.52 53.2M65.14 35.6L53.25 53.2M64.4 35.6L76.29 53.2M67.91 35.6L56.02 53.2M67.17 35.6L79.06 53.2M70.68 35.6L58.79 53.2M69.94 35.6L81.83 53.2M73.45 35.6L61.56 53.2M72.71 35.6L84.6 53.2M76.22 35.6L64.33 53.2M75.48 35.6L87.37 53.2M78.99 35.6L67.1 53.2M78.25 35.6L90.14 53.2M81.76 35.6L69.87 53.2M81.02 35.6L92.91 53.2M84.53 35.6L72.64 53.2M83.79 35.6L95.68 53.2M87.3 35.6L75.41 53.2M86.56 35.6L98.45 53.2M90.07 35.6L78.18 53.2M89.33 35.6L101.22 53.2M92.84 35.6L80.95 53.2M92.1 35.6L103.99 53.2M95.61 35.6L83.72 53.2M94.87 35.6L106.76 53.2M98.38 35.6L86.49 53.2M97.64 35.6L109.53 53.2M101.15 35.6L89.26 53.2" stroke="#000" stroke-width="0.55" fill="none"/></g>
<rect x="60.4" y="36.6" width="20" height="15.6" fill="none" stroke="#333" stroke-width="1"/>
<rect x="219.6" y="14.2" width="20" height="15.4" fill="#000"/>
<path clip-path="url(#c84)" d="M220.5 15.9h1.5v1.3h-1.5zM223.35 15.9h1.5v1.3h-1.5zM226.2 15.9h1.5v1.3h-1.5zM229.05 15.9h1.5v1.3h-1.5zM231.9 15.9h1.5v1.3h-1.5zM234.75 15.9h1.5v1.3h-1.5zM237.6 15.9h1.5v1.3h-1.5zM220.5 18.75h1.5v1.3h-1.5zM223.35 18.75h1.5v1.3h-1.5zM226.2 18.75h1.5v1.3h-1.5zM229.05 18.75h1.5v1.3h-1.5zM231.9 18.75h1.5v1.3h-1.5zM234.75 18.75h1.5v1.3h-1.5zM237.6 18.75h1.5v1.3h-1.5zM220.5 21.6h1.5v1.3h-1.5zM223.35 21.6h1.5v1.3h-1.5zM226.2 21.6h1.5v1.3h-1.5zM229.05 21.6h1.5v1.3h-1.5zM231.9 21.6h1.5v1.3h-1.5zM234.75 21.6h1.5v1.3h-1.5zM237.6 21.6h1.5v1.3h-1.5zM220.5 24.45h1.5v1.3h-1.5zM223.35 24.45h1.5v1.3h-1.5zM226.2 24.45h1.5v1.3h-1.5zM229.05 24.45h1.5v1.3h-1.5zM231.9 24.45h1.5v1.3h-1.5zM234.75 24.45h1.5v1.3h-1.5zM237.6 24.45h1.5v1.3h-1.5zM220.5 27.3h1.5v1.3h-1.5zM223.35 27.3h1.5v1.3h-1.5zM226.2 27.3h1.5v1.3h-1.5zM229.05 27.3h1.5v1.3h-1.5zM231.9 27.3h1.5v1.3h-1.5zM234.75 27.3h1.5v1.3h-1.5zM237.6 27.3h1.5v1.3h-1.5z" fill="#fff"/>
<rect x="219.6" y="14.2" width="20" height="15.4" fill="none" stroke="#000" stroke-width="1.3"/>
<rect x="219.1" y="35.8" width="20.8" height="17.1" fill="#000"/>
<text id="t_l1" x="85.0" y="27.7" font-size="15.80">NP2EO in sediment</text>
<text id="t_l2" x="85.0" y="51.6" font-size="15.80">NP2EO in water</text>
<text id="t_l3" x="244.3" y="27.7" font-size="15.80">BPA in sediment</text>
<text id="t_l4" x="244.3" y="51.6" font-size="15.80">BPA in water</text>
<text id="t_g1" x="59.9" y="87.10" font-size="11.75">Poyang Lake</text>
<text id="t_g2" x="59.9" y="103.80" font-size="11.75">Wetland Park</text>
<text id="t_g3" x="140.7" y="87.20" font-size="11.75">Jiangxi Poyang</text>
<text id="t_g4" x="140.7" y="103.10" font-size="11.75">Lake National</text>
<text id="t_g5" x="140.7" y="119.50" font-size="11.75">Nature Reserve</text>
<text id="t_g6" x="227.1" y="87.00" font-size="11.75">Five main tributaries</text>
<text id="t_g7" x="342.2" y="87.00" font-size="11.75">Junshan Lake &amp;</text>
<text id="t_g8" x="342.2" y="103.80" font-size="11.75">Chenjia Lake</text>
<text id="t_g9" x="429.8" y="87.00" font-size="11.75">Kangshan</text>
<text id="t_g10" x="494.0" y="86.90" font-size="11.75">Others</text>
</svg></body></html>
